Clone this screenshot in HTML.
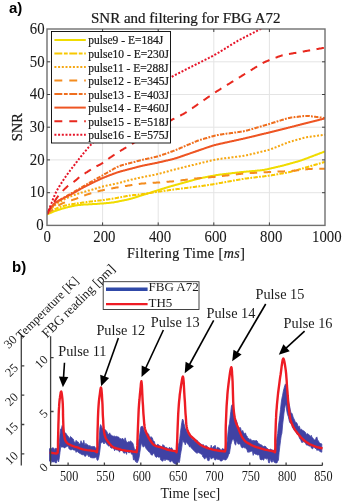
<!DOCTYPE html>
<html><head><meta charset="utf-8"><style>
html,body{margin:0;padding:0;background:#fff;width:342px;height:502px;overflow:hidden}
svg{display:block;will-change:transform}
.ser{font-family:"Liberation Serif",serif;fill:#1a1a1a}
.pa text.ser{stroke:#1a1a1a;stroke-width:0.22px}
.pa text.tk{stroke-width:0.08px}
.lab{font-family:"Liberation Sans",sans-serif;font-weight:bold;font-size:15px;fill:#000}
</style></head><body>
<svg width="342" height="502" viewBox="0 0 342 502">
<g class="pa">
<text x="9" y="12.7" class="lab">a)</text>
<text x="91" y="23.2" class="ser" font-size="15">SNR and filtering for FBG A72</text>
<path d="M102.6,29V225.4 M158.2,29V225.4 M213.8,29V225.4 M269.4,29V225.4 M47,192.7H325 M47,159.9H325 M47,127.2H325 M47,94.5H325 M47,61.8H325" stroke="#e4e4e4" stroke-width="1" fill="none"/>
<defs><clipPath id="ca"><rect x="47" y="29" width="278" height="196.4"/></clipPath></defs>
<g clip-path="url(#ca)" fill="none" stroke-width="2" stroke-linejoin="round">
<path d="M47.0,214.6 L47.5,214.3 L48.0,214.1 L48.5,213.8 L49.0,213.6 L49.5,213.4 L50.0,213.1 L50.5,212.9 L51.0,212.7 L51.5,212.5 L52.0,212.3 L52.5,212.1 L53.0,211.8 L53.5,211.6 L54.0,211.4 L54.5,211.2 L55.0,211.1 L55.5,210.9 L56.0,210.7 L56.5,210.5 L57.0,210.3 L57.5,210.2 L58.0,210.0 L58.5,209.8 L59.0,209.7 L59.5,209.5 L60.0,209.4 L60.5,209.2 L61.0,209.0 L61.5,208.9 L62.0,208.7 L62.5,208.6 L63.0,208.5 L63.5,208.3 L64.0,208.2 L64.5,208.0 L65.0,207.9 L65.5,207.8 L66.0,207.6 L66.5,207.5 L67.0,207.4 L67.5,207.3 L68.0,207.1 L68.5,207.0 L69.0,206.9 L69.5,206.8 L70.0,206.7 L70.5,206.6 L71.0,206.5 L71.5,206.3 L72.0,206.2 L72.5,206.1 L73.0,206.0 L73.5,205.9 L74.0,205.8 L74.5,205.7 L75.0,205.6 L75.5,205.5 L76.0,205.4 L76.5,205.3 L77.0,205.3 L77.5,205.2 L78.0,205.1 L78.5,205.1 L79.0,205.0 L79.5,205.0 L80.0,204.9 L80.5,204.9 L81.0,204.8 L81.5,204.8 L82.0,204.7 L82.5,204.7 L83.0,204.7 L83.5,204.6 L84.0,204.6 L84.5,204.6 L85.0,204.5 L85.5,204.5 L86.0,204.5 L86.5,204.4 L87.0,204.4 L87.5,204.4 L88.0,204.4 L88.5,204.3 L89.0,204.3 L89.5,204.3 L90.0,204.3 L90.5,204.2 L91.0,204.2 L91.5,204.2 L92.0,204.2 L92.5,204.1 L93.0,204.1 L93.5,204.1 L94.0,204.1 L94.5,204.0 L95.0,204.0 L95.5,204.0 L96.0,203.9 L96.5,203.9 L97.0,203.9 L97.5,203.8 L98.0,203.8 L98.5,203.8 L99.0,203.7 L99.5,203.7 L100.0,203.6 L100.5,203.6 L101.0,203.6 L101.5,203.5 L102.0,203.5 L102.5,203.5 L103.0,203.4 L103.5,203.4 L104.0,203.3 L104.5,203.3 L105.0,203.2 L105.5,203.2 L106.0,203.2 L106.5,203.1 L107.0,203.1 L107.5,203.0 L108.0,203.0 L108.5,202.9 L109.0,202.9 L109.5,202.8 L110.0,202.8 L110.5,202.7 L111.0,202.7 L111.5,202.6 L112.0,202.6 L112.5,202.5 L113.0,202.4 L113.5,202.4 L114.0,202.3 L114.5,202.2 L115.0,202.1 L115.5,202.0 L116.0,201.9 L116.5,201.8 L117.0,201.8 L117.5,201.7 L118.0,201.5 L118.5,201.4 L119.0,201.3 L119.5,201.2 L120.0,201.1 L120.5,201.0 L121.0,200.9 L121.5,200.8 L122.0,200.7 L122.5,200.6 L123.0,200.5 L123.5,200.4 L124.0,200.3 L124.5,200.2 L125.0,200.1 L125.5,200.0 L126.0,199.9 L126.5,199.8 L127.0,199.7 L127.5,199.6 L128.0,199.5 L128.5,199.3 L129.0,199.2 L129.5,199.1 L130.0,199.0 L130.5,198.8 L131.0,198.7 L131.5,198.6 L132.0,198.4 L132.5,198.3 L133.0,198.1 L133.5,198.0 L134.0,197.8 L134.5,197.7 L135.0,197.5 L135.5,197.3 L136.0,197.2 L136.5,197.0 L137.0,196.9 L137.5,196.7 L138.0,196.5 L138.5,196.4 L139.0,196.2 L139.5,196.1 L140.0,195.9 L140.5,195.7 L141.0,195.6 L141.5,195.4 L142.0,195.3 L142.5,195.1 L143.0,195.0 L143.5,194.8 L144.0,194.6 L144.5,194.5 L145.0,194.3 L145.5,194.2 L146.0,194.0 L146.5,193.9 L147.0,193.7 L147.5,193.5 L148.0,193.4 L148.5,193.2 L149.0,193.1 L149.5,192.9 L150.0,192.8 L150.5,192.6 L151.0,192.4 L151.5,192.3 L152.0,192.1 L152.5,192.0 L153.0,191.8 L153.5,191.7 L154.0,191.5 L154.5,191.3 L155.0,191.2 L155.5,191.0 L156.0,190.9 L156.5,190.7 L157.0,190.6 L157.5,190.4 L158.0,190.2 L158.5,190.1 L159.0,189.9 L159.5,189.8 L160.0,189.6 L160.5,189.5 L161.0,189.3 L161.5,189.1 L162.0,189.0 L162.5,188.8 L163.0,188.7 L163.5,188.5 L164.0,188.4 L164.5,188.2 L165.0,188.0 L165.5,187.9 L166.0,187.7 L166.5,187.6 L167.0,187.4 L167.5,187.3 L168.0,187.1 L168.5,187.0 L169.0,186.8 L169.5,186.7 L170.0,186.5 L170.5,186.4 L171.0,186.2 L171.5,186.1 L172.0,186.0 L172.5,185.8 L173.0,185.7 L173.5,185.5 L174.0,185.4 L174.5,185.3 L175.0,185.1 L175.5,185.0 L176.0,184.8 L176.5,184.7 L177.0,184.6 L177.5,184.4 L178.0,184.3 L178.5,184.2 L179.0,184.0 L179.5,183.9 L180.0,183.7 L180.5,183.6 L181.0,183.5 L181.5,183.3 L182.0,183.2 L182.5,183.0 L183.0,182.9 L183.5,182.8 L184.0,182.6 L184.5,182.5 L185.0,182.3 L185.5,182.2 L186.0,182.1 L186.5,181.9 L187.0,181.8 L187.5,181.7 L188.0,181.5 L188.5,181.4 L189.0,181.2 L189.5,181.1 L190.0,181.0 L190.5,180.8 L191.0,180.7 L191.5,180.5 L192.0,180.4 L192.5,180.3 L193.0,180.1 L193.5,180.0 L194.0,179.8 L194.5,179.7 L195.0,179.6 L195.5,179.4 L196.0,179.3 L196.5,179.2 L197.0,179.1 L197.5,178.9 L198.0,178.8 L198.5,178.7 L199.0,178.6 L199.5,178.5 L200.0,178.3 L200.5,178.2 L201.0,178.1 L201.5,178.0 L202.0,177.9 L202.5,177.8 L203.0,177.7 L203.5,177.6 L204.0,177.5 L204.5,177.4 L205.0,177.3 L205.5,177.2 L206.0,177.1 L206.5,177.0 L207.0,176.9 L207.5,176.8 L208.0,176.7 L208.5,176.6 L209.0,176.5 L209.5,176.4 L210.0,176.3 L210.5,176.2 L211.0,176.1 L211.5,176.0 L212.0,175.9 L212.5,175.9 L213.0,175.8 L213.5,175.7 L214.0,175.6 L214.5,175.5 L215.0,175.4 L215.5,175.3 L216.0,175.2 L216.5,175.1 L217.0,175.1 L217.5,175.0 L218.0,174.9 L218.5,174.8 L219.0,174.8 L219.5,174.7 L220.0,174.6 L220.5,174.6 L221.0,174.5 L221.5,174.4 L222.0,174.4 L222.5,174.3 L223.0,174.3 L223.5,174.2 L224.0,174.1 L224.5,174.1 L225.0,174.0 L225.5,174.0 L226.0,173.9 L226.5,173.8 L227.0,173.8 L227.5,173.7 L228.0,173.7 L228.5,173.6 L229.0,173.6 L229.5,173.5 L230.0,173.4 L230.5,173.4 L231.0,173.3 L231.5,173.3 L232.0,173.2 L232.5,173.1 L233.0,173.1 L233.5,173.0 L234.0,173.0 L234.5,172.9 L235.0,172.8 L235.5,172.8 L236.0,172.7 L236.5,172.7 L237.0,172.6 L237.5,172.5 L238.0,172.5 L238.5,172.4 L239.0,172.4 L239.5,172.3 L240.0,172.3 L240.5,172.2 L241.0,172.1 L241.5,172.1 L242.0,172.0 L242.5,172.0 L243.0,171.9 L243.5,171.9 L244.0,171.8 L244.5,171.8 L245.0,171.7 L245.5,171.7 L246.0,171.7 L246.5,171.6 L247.0,171.6 L247.5,171.5 L248.0,171.5 L248.5,171.4 L249.0,171.4 L249.5,171.3 L250.0,171.3 L250.5,171.3 L251.0,171.2 L251.5,171.2 L252.0,171.1 L252.5,171.1 L253.0,171.0 L253.5,171.0 L254.0,170.9 L254.5,170.9 L255.0,170.9 L255.5,170.8 L256.0,170.8 L256.5,170.7 L257.0,170.7 L257.5,170.6 L258.0,170.6 L258.5,170.5 L259.0,170.5 L259.5,170.4 L260.0,170.4 L260.5,170.3 L261.0,170.3 L261.5,170.2 L262.0,170.2 L262.5,170.1 L263.0,170.0 L263.5,169.9 L264.0,169.9 L264.5,169.8 L265.0,169.7 L265.5,169.6 L266.0,169.5 L266.5,169.4 L267.0,169.3 L267.5,169.2 L268.0,169.1 L268.5,168.9 L269.0,168.8 L269.5,168.7 L270.0,168.6 L270.5,168.5 L271.0,168.4 L271.5,168.2 L272.0,168.1 L272.5,168.0 L273.0,167.9 L273.5,167.8 L274.0,167.7 L274.5,167.5 L275.0,167.4 L275.5,167.3 L276.0,167.2 L276.5,167.1 L277.0,167.0 L277.5,166.9 L278.0,166.7 L278.5,166.6 L279.0,166.5 L279.5,166.4 L280.0,166.3 L280.5,166.1 L281.0,166.0 L281.5,165.9 L282.0,165.8 L282.5,165.7 L283.0,165.5 L283.5,165.4 L284.0,165.3 L284.5,165.1 L285.0,165.0 L285.5,164.9 L286.0,164.7 L286.5,164.6 L287.0,164.5 L287.5,164.3 L288.0,164.2 L288.5,164.0 L289.0,163.9 L289.5,163.8 L290.0,163.6 L290.5,163.5 L291.0,163.3 L291.5,163.2 L292.0,163.1 L292.5,162.9 L293.0,162.8 L293.5,162.6 L294.0,162.5 L294.5,162.4 L295.0,162.2 L295.5,162.1 L296.0,161.9 L296.5,161.8 L297.0,161.7 L297.5,161.5 L298.0,161.4 L298.5,161.2 L299.0,161.1 L299.5,160.9 L300.0,160.8 L300.5,160.6 L301.0,160.4 L301.5,160.3 L302.0,160.1 L302.5,159.9 L303.0,159.7 L303.5,159.6 L304.0,159.4 L304.5,159.2 L305.0,159.0 L305.5,158.8 L306.0,158.6 L306.5,158.4 L307.0,158.3 L307.5,158.1 L308.0,157.9 L308.5,157.7 L309.0,157.5 L309.5,157.3 L310.0,157.1 L310.5,156.9 L311.0,156.7 L311.5,156.5 L312.0,156.4 L312.5,156.2 L313.0,156.0 L313.5,155.8 L314.0,155.6 L314.5,155.4 L315.0,155.2 L315.5,155.0 L316.0,154.8 L316.5,154.7 L317.0,154.5 L317.5,154.3 L318.0,154.1 L318.5,153.9 L319.0,153.7 L319.5,153.5 L320.0,153.3 L320.5,153.1 L321.0,152.9 L321.5,152.8 L322.0,152.6 L322.5,152.4 L323.0,152.2 L323.5,152.0 L324.0,151.8 L324.5,151.6 L325.0,151.4" stroke="#f0dc00" />
<path d="M47.0,213.9 L47.5,213.6 L48.0,213.3 L48.5,213.0 L49.0,212.7 L49.5,212.4 L50.0,212.1 L50.5,211.8 L51.0,211.5 L51.5,211.2 L52.0,210.9 L52.5,210.6 L53.0,210.3 L53.5,210.0 L54.0,209.7 L54.5,209.5 L55.0,209.2 L55.5,208.9 L56.0,208.7 L56.5,208.5 L57.0,208.2 L57.5,208.0 L58.0,207.8 L58.5,207.6 L59.0,207.4 L59.5,207.2 L60.0,207.0 L60.5,206.8 L61.0,206.7 L61.5,206.5 L62.0,206.4 L62.5,206.2 L63.0,206.1 L63.5,205.9 L64.0,205.8 L64.5,205.7 L65.0,205.5 L65.5,205.4 L66.0,205.3 L66.5,205.2 L67.0,205.1 L67.5,205.0 L68.0,204.9 L68.5,204.8 L69.0,204.7 L69.5,204.6 L70.0,204.5 L70.5,204.4 L71.0,204.3 L71.5,204.3 L72.0,204.2 L72.5,204.1 L73.0,204.0 L73.5,203.9 L74.0,203.9 L74.5,203.8 L75.0,203.7 L75.5,203.6 L76.0,203.6 L76.5,203.5 L77.0,203.4 L77.5,203.3 L78.0,203.3 L78.5,203.2 L79.0,203.1 L79.5,203.1 L80.0,203.0 L80.5,202.9 L81.0,202.9 L81.5,202.8 L82.0,202.7 L82.5,202.6 L83.0,202.6 L83.5,202.5 L84.0,202.4 L84.5,202.4 L85.0,202.3 L85.5,202.2 L86.0,202.2 L86.5,202.1 L87.0,202.0 L87.5,201.9 L88.0,201.9 L88.5,201.8 L89.0,201.7 L89.5,201.7 L90.0,201.6 L90.5,201.5 L91.0,201.5 L91.5,201.4 L92.0,201.4 L92.5,201.3 L93.0,201.2 L93.5,201.2 L94.0,201.1 L94.5,201.1 L95.0,201.0 L95.5,200.9 L96.0,200.9 L96.5,200.8 L97.0,200.8 L97.5,200.7 L98.0,200.7 L98.5,200.6 L99.0,200.6 L99.5,200.5 L100.0,200.5 L100.5,200.4 L101.0,200.3 L101.5,200.3 L102.0,200.2 L102.5,200.2 L103.0,200.1 L103.5,200.0 L104.0,200.0 L104.5,199.9 L105.0,199.8 L105.5,199.8 L106.0,199.7 L106.5,199.6 L107.0,199.5 L107.5,199.5 L108.0,199.4 L108.5,199.3 L109.0,199.2 L109.5,199.2 L110.0,199.1 L110.5,199.0 L111.0,198.9 L111.5,198.8 L112.0,198.8 L112.5,198.7 L113.0,198.6 L113.5,198.5 L114.0,198.4 L114.5,198.3 L115.0,198.3 L115.5,198.2 L116.0,198.1 L116.5,198.0 L117.0,197.9 L117.5,197.8 L118.0,197.7 L118.5,197.6 L119.0,197.5 L119.5,197.4 L120.0,197.3 L120.5,197.2 L121.0,197.2 L121.5,197.1 L122.0,197.0 L122.5,196.9 L123.0,196.8 L123.5,196.7 L124.0,196.6 L124.5,196.5 L125.0,196.4 L125.5,196.3 L126.0,196.2 L126.5,196.1 L127.0,196.0 L127.5,196.0 L128.0,195.9 L128.5,195.8 L129.0,195.7 L129.5,195.6 L130.0,195.6 L130.5,195.5 L131.0,195.4 L131.5,195.4 L132.0,195.3 L132.5,195.2 L133.0,195.2 L133.5,195.1 L134.0,195.1 L134.5,195.0 L135.0,195.0 L135.5,194.9 L136.0,194.9 L136.5,194.8 L137.0,194.8 L137.5,194.7 L138.0,194.7 L138.5,194.6 L139.0,194.6 L139.5,194.5 L140.0,194.5 L140.5,194.4 L141.0,194.3 L141.5,194.3 L142.0,194.2 L142.5,194.1 L143.0,194.1 L143.5,194.0 L144.0,193.9 L144.5,193.9 L145.0,193.8 L145.5,193.7 L146.0,193.6 L146.5,193.6 L147.0,193.5 L147.5,193.4 L148.0,193.3 L148.5,193.2 L149.0,193.2 L149.5,193.1 L150.0,193.0 L150.5,192.9 L151.0,192.8 L151.5,192.8 L152.0,192.7 L152.5,192.6 L153.0,192.5 L153.5,192.4 L154.0,192.4 L154.5,192.3 L155.0,192.2 L155.5,192.1 L156.0,192.0 L156.5,192.0 L157.0,191.9 L157.5,191.8 L158.0,191.7 L158.5,191.7 L159.0,191.6 L159.5,191.5 L160.0,191.4 L160.5,191.4 L161.0,191.3 L161.5,191.2 L162.0,191.2 L162.5,191.1 L163.0,191.0 L163.5,191.0 L164.0,190.9 L164.5,190.8 L165.0,190.8 L165.5,190.7 L166.0,190.6 L166.5,190.5 L167.0,190.5 L167.5,190.4 L168.0,190.3 L168.5,190.3 L169.0,190.2 L169.5,190.1 L170.0,190.1 L170.5,190.0 L171.0,189.9 L171.5,189.9 L172.0,189.8 L172.5,189.7 L173.0,189.7 L173.5,189.6 L174.0,189.5 L174.5,189.5 L175.0,189.4 L175.5,189.3 L176.0,189.3 L176.5,189.2 L177.0,189.1 L177.5,189.1 L178.0,189.0 L178.5,188.9 L179.0,188.9 L179.5,188.8 L180.0,188.7 L180.5,188.7 L181.0,188.6 L181.5,188.6 L182.0,188.5 L182.5,188.4 L183.0,188.4 L183.5,188.3 L184.0,188.2 L184.5,188.2 L185.0,188.1 L185.5,188.0 L186.0,188.0 L186.5,187.9 L187.0,187.9 L187.5,187.8 L188.0,187.7 L188.5,187.7 L189.0,187.6 L189.5,187.5 L190.0,187.5 L190.5,187.4 L191.0,187.3 L191.5,187.3 L192.0,187.2 L192.5,187.1 L193.0,187.1 L193.5,187.0 L194.0,187.0 L194.5,186.9 L195.0,186.8 L195.5,186.8 L196.0,186.7 L196.5,186.6 L197.0,186.6 L197.5,186.5 L198.0,186.4 L198.5,186.4 L199.0,186.3 L199.5,186.3 L200.0,186.2 L200.5,186.1 L201.0,186.1 L201.5,186.0 L202.0,185.9 L202.5,185.9 L203.0,185.8 L203.5,185.7 L204.0,185.7 L204.5,185.6 L205.0,185.6 L205.5,185.5 L206.0,185.4 L206.5,185.3 L207.0,185.3 L207.5,185.2 L208.0,185.1 L208.5,185.0 L209.0,185.0 L209.5,184.9 L210.0,184.8 L210.5,184.7 L211.0,184.6 L211.5,184.6 L212.0,184.5 L212.5,184.4 L213.0,184.3 L213.5,184.2 L214.0,184.1 L214.5,184.0 L215.0,183.9 L215.5,183.8 L216.0,183.8 L216.5,183.7 L217.0,183.6 L217.5,183.5 L218.0,183.4 L218.5,183.3 L219.0,183.2 L219.5,183.1 L220.0,183.0 L220.5,183.0 L221.0,182.9 L221.5,182.8 L222.0,182.7 L222.5,182.6 L223.0,182.5 L223.5,182.4 L224.0,182.3 L224.5,182.2 L225.0,182.2 L225.5,182.1 L226.0,182.0 L226.5,181.9 L227.0,181.8 L227.5,181.7 L228.0,181.6 L228.5,181.5 L229.0,181.4 L229.5,181.3 L230.0,181.3 L230.5,181.2 L231.0,181.1 L231.5,181.0 L232.0,180.9 L232.5,180.8 L233.0,180.7 L233.5,180.6 L234.0,180.5 L234.5,180.5 L235.0,180.4 L235.5,180.3 L236.0,180.2 L236.5,180.1 L237.0,180.0 L237.5,179.9 L238.0,179.8 L238.5,179.7 L239.0,179.7 L239.5,179.6 L240.0,179.5 L240.5,179.4 L241.0,179.3 L241.5,179.2 L242.0,179.1 L242.5,179.0 L243.0,179.0 L243.5,178.9 L244.0,178.8 L244.5,178.7 L245.0,178.6 L245.5,178.6 L246.0,178.5 L246.5,178.4 L247.0,178.4 L247.5,178.3 L248.0,178.2 L248.5,178.2 L249.0,178.1 L249.5,178.0 L250.0,178.0 L250.5,177.9 L251.0,177.9 L251.5,177.8 L252.0,177.7 L252.5,177.7 L253.0,177.6 L253.5,177.6 L254.0,177.5 L254.5,177.4 L255.0,177.4 L255.5,177.3 L256.0,177.3 L256.5,177.2 L257.0,177.1 L257.5,177.1 L258.0,177.0 L258.5,177.0 L259.0,176.9 L259.5,176.8 L260.0,176.8 L260.5,176.7 L261.0,176.7 L261.5,176.6 L262.0,176.5 L262.5,176.5 L263.0,176.4 L263.5,176.4 L264.0,176.3 L264.5,176.2 L265.0,176.2 L265.5,176.1 L266.0,176.1 L266.5,176.0 L267.0,175.9 L267.5,175.9 L268.0,175.8 L268.5,175.7 L269.0,175.7 L269.5,175.6 L270.0,175.5 L270.5,175.4 L271.0,175.4 L271.5,175.3 L272.0,175.2 L272.5,175.1 L273.0,175.0 L273.5,174.9 L274.0,174.9 L274.5,174.8 L275.0,174.7 L275.5,174.6 L276.0,174.5 L276.5,174.4 L277.0,174.3 L277.5,174.3 L278.0,174.2 L278.5,174.1 L279.0,174.0 L279.5,173.9 L280.0,173.8 L280.5,173.7 L281.0,173.6 L281.5,173.6 L282.0,173.5 L282.5,173.4 L283.0,173.3 L283.5,173.2 L284.0,173.1 L284.5,173.0 L285.0,173.0 L285.5,172.9 L286.0,172.8 L286.5,172.7 L287.0,172.6 L287.5,172.5 L288.0,172.4 L288.5,172.3 L289.0,172.2 L289.5,172.1 L290.0,172.0 L290.5,171.9 L291.0,171.7 L291.5,171.6 L292.0,171.5 L292.5,171.4 L293.0,171.2 L293.5,171.1 L294.0,171.0 L294.5,170.8 L295.0,170.7 L295.5,170.5 L296.0,170.4 L296.5,170.2 L297.0,170.1 L297.5,169.9 L298.0,169.8 L298.5,169.6 L299.0,169.5 L299.5,169.3 L300.0,169.2 L300.5,169.1 L301.0,168.9 L301.5,168.8 L302.0,168.6 L302.5,168.5 L303.0,168.3 L303.5,168.2 L304.0,168.0 L304.5,167.9 L305.0,167.7 L305.5,167.6 L306.0,167.5 L306.5,167.3 L307.0,167.2 L307.5,167.0 L308.0,166.9 L308.5,166.7 L309.0,166.6 L309.5,166.4 L310.0,166.3 L310.5,166.1 L311.0,166.0 L311.5,165.8 L312.0,165.7 L312.5,165.6 L313.0,165.4 L313.5,165.3 L314.0,165.1 L314.5,165.0 L315.0,164.8 L315.5,164.7 L316.0,164.5 L316.5,164.4 L317.0,164.2 L317.5,164.1 L318.0,163.9 L318.5,163.8 L319.0,163.7 L319.5,163.5 L320.0,163.4 L320.5,163.2 L321.0,163.1 L321.5,162.9 L322.0,162.8 L322.5,162.6 L323.0,162.5 L323.5,162.3 L324.0,162.2 L324.5,162.0 L325.0,161.9" stroke="#f8c800" stroke-dasharray="4.4 1.3 1.8 1.3"/>
<path d="M47.0,213.9 L47.5,213.4 L48.0,212.8 L48.5,212.2 L49.0,211.6 L49.5,211.0 L50.0,210.4 L50.5,209.8 L51.0,209.2 L51.5,208.7 L52.0,208.1 L52.5,207.5 L53.0,207.0 L53.5,206.5 L54.0,206.0 L54.5,205.6 L55.0,205.1 L55.5,204.7 L56.0,204.3 L56.5,203.9 L57.0,203.5 L57.5,203.1 L58.0,202.8 L58.5,202.5 L59.0,202.2 L59.5,201.9 L60.0,201.6 L60.5,201.4 L61.0,201.1 L61.5,200.8 L62.0,200.6 L62.5,200.3 L63.0,200.0 L63.5,199.8 L64.0,199.5 L64.5,199.3 L65.0,199.0 L65.5,198.8 L66.0,198.5 L66.5,198.3 L67.0,198.0 L67.5,197.8 L68.0,197.6 L68.5,197.4 L69.0,197.1 L69.5,196.9 L70.0,196.7 L70.5,196.5 L71.0,196.3 L71.5,196.1 L72.0,195.9 L72.5,195.7 L73.0,195.5 L73.5,195.3 L74.0,195.1 L74.5,194.9 L75.0,194.8 L75.5,194.6 L76.0,194.4 L76.5,194.2 L77.0,194.1 L77.5,193.9 L78.0,193.7 L78.5,193.6 L79.0,193.4 L79.5,193.2 L80.0,193.1 L80.5,192.9 L81.0,192.7 L81.5,192.6 L82.0,192.4 L82.5,192.3 L83.0,192.1 L83.5,192.0 L84.0,191.8 L84.5,191.7 L85.0,191.6 L85.5,191.4 L86.0,191.3 L86.5,191.1 L87.0,191.0 L87.5,190.9 L88.0,190.7 L88.5,190.6 L89.0,190.5 L89.5,190.4 L90.0,190.2 L90.5,190.1 L91.0,189.9 L91.5,189.8 L92.0,189.7 L92.5,189.5 L93.0,189.4 L93.5,189.2 L94.0,189.1 L94.5,189.0 L95.0,188.8 L95.5,188.7 L96.0,188.5 L96.5,188.4 L97.0,188.2 L97.5,188.0 L98.0,187.9 L98.5,187.7 L99.0,187.6 L99.5,187.4 L100.0,187.3 L100.5,187.1 L101.0,187.0 L101.5,186.9 L102.0,186.7 L102.5,186.6 L103.0,186.5 L103.5,186.3 L104.0,186.2 L104.5,186.1 L105.0,186.0 L105.5,185.9 L106.0,185.8 L106.5,185.6 L107.0,185.5 L107.5,185.4 L108.0,185.3 L108.5,185.2 L109.0,185.1 L109.5,185.0 L110.0,184.9 L110.5,184.8 L111.0,184.7 L111.5,184.6 L112.0,184.5 L112.5,184.4 L113.0,184.3 L113.5,184.2 L114.0,184.1 L114.5,184.0 L115.0,183.9 L115.5,183.8 L116.0,183.7 L116.5,183.6 L117.0,183.4 L117.5,183.3 L118.0,183.2 L118.5,183.1 L119.0,183.0 L119.5,182.8 L120.0,182.7 L120.5,182.6 L121.0,182.5 L121.5,182.3 L122.0,182.2 L122.5,182.0 L123.0,181.9 L123.5,181.8 L124.0,181.6 L124.5,181.5 L125.0,181.3 L125.5,181.2 L126.0,181.1 L126.5,180.9 L127.0,180.8 L127.5,180.6 L128.0,180.5 L128.5,180.4 L129.0,180.3 L129.5,180.1 L130.0,180.0 L130.5,179.9 L131.0,179.7 L131.5,179.6 L132.0,179.5 L132.5,179.4 L133.0,179.3 L133.5,179.2 L134.0,179.0 L134.5,178.9 L135.0,178.8 L135.5,178.7 L136.0,178.6 L136.5,178.5 L137.0,178.4 L137.5,178.3 L138.0,178.1 L138.5,178.0 L139.0,177.9 L139.5,177.8 L140.0,177.7 L140.5,177.6 L141.0,177.5 L141.5,177.4 L142.0,177.3 L142.5,177.2 L143.0,177.1 L143.5,177.0 L144.0,176.9 L144.5,176.8 L145.0,176.6 L145.5,176.5 L146.0,176.4 L146.5,176.3 L147.0,176.2 L147.5,176.1 L148.0,176.0 L148.5,175.9 L149.0,175.8 L149.5,175.7 L150.0,175.7 L150.5,175.6 L151.0,175.5 L151.5,175.4 L152.0,175.3 L152.5,175.2 L153.0,175.1 L153.5,175.0 L154.0,174.9 L154.5,174.8 L155.0,174.6 L155.5,174.5 L156.0,174.4 L156.5,174.3 L157.0,174.2 L157.5,174.1 L158.0,174.0 L158.5,173.9 L159.0,173.7 L159.5,173.6 L160.0,173.5 L160.5,173.4 L161.0,173.2 L161.5,173.1 L162.0,173.0 L162.5,172.8 L163.0,172.7 L163.5,172.6 L164.0,172.4 L164.5,172.3 L165.0,172.1 L165.5,172.0 L166.0,171.9 L166.5,171.7 L167.0,171.6 L167.5,171.5 L168.0,171.3 L168.5,171.2 L169.0,171.0 L169.5,170.9 L170.0,170.8 L170.5,170.6 L171.0,170.5 L171.5,170.4 L172.0,170.2 L172.5,170.1 L173.0,170.0 L173.5,169.8 L174.0,169.7 L174.5,169.6 L175.0,169.4 L175.5,169.3 L176.0,169.2 L176.5,169.0 L177.0,168.9 L177.5,168.8 L178.0,168.7 L178.5,168.5 L179.0,168.4 L179.5,168.3 L180.0,168.2 L180.5,168.1 L181.0,167.9 L181.5,167.8 L182.0,167.7 L182.5,167.6 L183.0,167.4 L183.5,167.3 L184.0,167.2 L184.5,167.1 L185.0,166.9 L185.5,166.8 L186.0,166.7 L186.5,166.6 L187.0,166.5 L187.5,166.3 L188.0,166.2 L188.5,166.1 L189.0,166.0 L189.5,165.8 L190.0,165.7 L190.5,165.6 L191.0,165.5 L191.5,165.4 L192.0,165.2 L192.5,165.1 L193.0,165.0 L193.5,164.9 L194.0,164.7 L194.5,164.6 L195.0,164.5 L195.5,164.4 L196.0,164.3 L196.5,164.1 L197.0,164.0 L197.5,163.9 L198.0,163.8 L198.5,163.6 L199.0,163.5 L199.5,163.4 L200.0,163.3 L200.5,163.1 L201.0,163.0 L201.5,162.9 L202.0,162.8 L202.5,162.7 L203.0,162.5 L203.5,162.4 L204.0,162.3 L204.5,162.2 L205.0,162.0 L205.5,161.9 L206.0,161.8 L206.5,161.7 L207.0,161.6 L207.5,161.4 L208.0,161.3 L208.5,161.2 L209.0,161.1 L209.5,161.0 L210.0,160.9 L210.5,160.7 L211.0,160.6 L211.5,160.5 L212.0,160.4 L212.5,160.3 L213.0,160.2 L213.5,160.1 L214.0,159.9 L214.5,159.8 L215.0,159.7 L215.5,159.6 L216.0,159.5 L216.5,159.5 L217.0,159.4 L217.5,159.3 L218.0,159.2 L218.5,159.1 L219.0,159.0 L219.5,159.0 L220.0,158.9 L220.5,158.8 L221.0,158.8 L221.5,158.7 L222.0,158.6 L222.5,158.6 L223.0,158.5 L223.5,158.4 L224.0,158.4 L224.5,158.3 L225.0,158.2 L225.5,158.2 L226.0,158.1 L226.5,158.0 L227.0,158.0 L227.5,157.9 L228.0,157.9 L228.5,157.8 L229.0,157.7 L229.5,157.7 L230.0,157.6 L230.5,157.5 L231.0,157.5 L231.5,157.4 L232.0,157.3 L232.5,157.3 L233.0,157.2 L233.5,157.2 L234.0,157.1 L234.5,157.0 L235.0,157.0 L235.5,156.9 L236.0,156.8 L236.5,156.8 L237.0,156.7 L237.5,156.6 L238.0,156.6 L238.5,156.5 L239.0,156.4 L239.5,156.4 L240.0,156.3 L240.5,156.3 L241.0,156.2 L241.5,156.1 L242.0,156.1 L242.5,156.0 L243.0,155.9 L243.5,155.8 L244.0,155.7 L244.5,155.6 L245.0,155.6 L245.5,155.5 L246.0,155.4 L246.5,155.3 L247.0,155.2 L247.5,155.0 L248.0,154.9 L248.5,154.8 L249.0,154.7 L249.5,154.6 L250.0,154.5 L250.5,154.3 L251.0,154.2 L251.5,154.1 L252.0,154.0 L252.5,153.9 L253.0,153.7 L253.5,153.6 L254.0,153.5 L254.5,153.4 L255.0,153.3 L255.5,153.1 L256.0,153.0 L256.5,152.9 L257.0,152.8 L257.5,152.7 L258.0,152.5 L258.5,152.4 L259.0,152.3 L259.5,152.2 L260.0,152.1 L260.5,151.9 L261.0,151.8 L261.5,151.7 L262.0,151.6 L262.5,151.5 L263.0,151.3 L263.5,151.2 L264.0,151.1 L264.5,151.0 L265.0,150.9 L265.5,150.7 L266.0,150.6 L266.5,150.5 L267.0,150.3 L267.5,150.2 L268.0,150.1 L268.5,149.9 L269.0,149.8 L269.5,149.6 L270.0,149.4 L270.5,149.3 L271.0,149.1 L271.5,148.9 L272.0,148.7 L272.5,148.5 L273.0,148.4 L273.5,148.2 L274.0,148.0 L274.5,147.8 L275.0,147.6 L275.5,147.4 L276.0,147.2 L276.5,147.0 L277.0,146.8 L277.5,146.6 L278.0,146.4 L278.5,146.2 L279.0,146.0 L279.5,145.8 L280.0,145.6 L280.5,145.4 L281.0,145.2 L281.5,145.0 L282.0,144.8 L282.5,144.6 L283.0,144.4 L283.5,144.2 L284.0,144.0 L284.5,143.8 L285.0,143.6 L285.5,143.4 L286.0,143.2 L286.5,143.0 L287.0,142.8 L287.5,142.6 L288.0,142.5 L288.5,142.3 L289.0,142.1 L289.5,141.9 L290.0,141.8 L290.5,141.6 L291.0,141.5 L291.5,141.3 L292.0,141.2 L292.5,141.0 L293.0,140.9 L293.5,140.7 L294.0,140.6 L294.5,140.4 L295.0,140.3 L295.5,140.2 L296.0,140.0 L296.5,139.9 L297.0,139.7 L297.5,139.6 L298.0,139.5 L298.5,139.3 L299.0,139.2 L299.5,139.0 L300.0,138.9 L300.5,138.8 L301.0,138.6 L301.5,138.5 L302.0,138.3 L302.5,138.2 L303.0,138.1 L303.5,138.0 L304.0,137.8 L304.5,137.7 L305.0,137.6 L305.5,137.5 L306.0,137.4 L306.5,137.3 L307.0,137.2 L307.5,137.1 L308.0,137.1 L308.5,137.0 L309.0,136.9 L309.5,136.8 L310.0,136.8 L310.5,136.7 L311.0,136.6 L311.5,136.6 L312.0,136.5 L312.5,136.4 L313.0,136.4 L313.5,136.3 L314.0,136.2 L314.5,136.2 L315.0,136.1 L315.5,136.0 L316.0,135.9 L316.5,135.9 L317.0,135.8 L317.5,135.7 L318.0,135.7 L318.5,135.6 L319.0,135.5 L319.5,135.5 L320.0,135.4 L320.5,135.3 L321.0,135.3 L321.5,135.2 L322.0,135.1 L322.5,135.1 L323.0,135.0 L323.5,134.9 L324.0,134.9 L324.5,134.8 L325.0,134.7" stroke="#f6a814" stroke-dasharray="2 1.7"/>
<path d="M47.0,213.9 L47.5,213.6 L48.0,213.2 L48.5,212.8 L49.0,212.4 L49.5,212.0 L50.0,211.7 L50.5,211.3 L51.0,210.9 L51.5,210.5 L52.0,210.2 L52.5,209.8 L53.0,209.4 L53.5,209.0 L54.0,208.6 L54.5,208.3 L55.0,207.9 L55.5,207.5 L56.0,207.1 L56.5,206.8 L57.0,206.4 L57.5,206.1 L58.0,205.8 L58.5,205.4 L59.0,205.1 L59.5,204.8 L60.0,204.6 L60.5,204.3 L61.0,204.0 L61.5,203.8 L62.0,203.5 L62.5,203.3 L63.0,203.1 L63.5,202.9 L64.0,202.7 L64.5,202.6 L65.0,202.4 L65.5,202.2 L66.0,202.0 L66.5,201.9 L67.0,201.7 L67.5,201.5 L68.0,201.4 L68.5,201.2 L69.0,201.0 L69.5,200.9 L70.0,200.7 L70.5,200.6 L71.0,200.4 L71.5,200.3 L72.0,200.1 L72.5,199.9 L73.0,199.8 L73.5,199.6 L74.0,199.5 L74.5,199.3 L75.0,199.1 L75.5,198.9 L76.0,198.8 L76.5,198.6 L77.0,198.4 L77.5,198.2 L78.0,198.0 L78.5,197.8 L79.0,197.6 L79.5,197.4 L80.0,197.2 L80.5,197.0 L81.0,196.8 L81.5,196.6 L82.0,196.4 L82.5,196.2 L83.0,196.0 L83.5,195.8 L84.0,195.7 L84.5,195.5 L85.0,195.3 L85.5,195.1 L86.0,194.9 L86.5,194.7 L87.0,194.6 L87.5,194.4 L88.0,194.2 L88.5,194.1 L89.0,193.9 L89.5,193.8 L90.0,193.6 L90.5,193.4 L91.0,193.3 L91.5,193.2 L92.0,193.0 L92.5,192.9 L93.0,192.7 L93.5,192.6 L94.0,192.4 L94.5,192.3 L95.0,192.1 L95.5,192.0 L96.0,191.8 L96.5,191.7 L97.0,191.6 L97.5,191.4 L98.0,191.3 L98.5,191.2 L99.0,191.1 L99.5,190.9 L100.0,190.8 L100.5,190.7 L101.0,190.6 L101.5,190.5 L102.0,190.4 L102.5,190.3 L103.0,190.2 L103.5,190.1 L104.0,189.9 L104.5,189.8 L105.0,189.7 L105.5,189.6 L106.0,189.5 L106.5,189.4 L107.0,189.3 L107.5,189.2 L108.0,189.1 L108.5,189.0 L109.0,188.9 L109.5,188.8 L110.0,188.7 L110.5,188.6 L111.0,188.5 L111.5,188.4 L112.0,188.4 L112.5,188.3 L113.0,188.2 L113.5,188.1 L114.0,188.0 L114.5,187.9 L115.0,187.8 L115.5,187.7 L116.0,187.6 L116.5,187.6 L117.0,187.5 L117.5,187.4 L118.0,187.3 L118.5,187.2 L119.0,187.1 L119.5,187.0 L120.0,187.0 L120.5,186.9 L121.0,186.8 L121.5,186.7 L122.0,186.6 L122.5,186.5 L123.0,186.4 L123.5,186.4 L124.0,186.3 L124.5,186.2 L125.0,186.1 L125.5,186.0 L126.0,186.0 L126.5,185.9 L127.0,185.8 L127.5,185.7 L128.0,185.6 L128.5,185.6 L129.0,185.5 L129.5,185.4 L130.0,185.3 L130.5,185.3 L131.0,185.2 L131.5,185.1 L132.0,185.0 L132.5,184.9 L133.0,184.9 L133.5,184.8 L134.0,184.7 L134.5,184.6 L135.0,184.6 L135.5,184.5 L136.0,184.4 L136.5,184.3 L137.0,184.2 L137.5,184.2 L138.0,184.1 L138.5,184.0 L139.0,183.9 L139.5,183.9 L140.0,183.8 L140.5,183.8 L141.0,183.7 L141.5,183.6 L142.0,183.6 L142.5,183.5 L143.0,183.5 L143.5,183.4 L144.0,183.4 L144.5,183.4 L145.0,183.3 L145.5,183.3 L146.0,183.3 L146.5,183.2 L147.0,183.2 L147.5,183.2 L148.0,183.1 L148.5,183.1 L149.0,183.1 L149.5,183.0 L150.0,183.0 L150.5,183.0 L151.0,183.0 L151.5,182.9 L152.0,182.9 L152.5,182.9 L153.0,182.8 L153.5,182.8 L154.0,182.8 L154.5,182.7 L155.0,182.7 L155.5,182.7 L156.0,182.7 L156.5,182.6 L157.0,182.6 L157.5,182.6 L158.0,182.5 L158.5,182.5 L159.0,182.4 L159.5,182.4 L160.0,182.4 L160.5,182.3 L161.0,182.3 L161.5,182.3 L162.0,182.2 L162.5,182.2 L163.0,182.1 L163.5,182.1 L164.0,182.1 L164.5,182.0 L165.0,182.0 L165.5,182.0 L166.0,181.9 L166.5,181.9 L167.0,181.8 L167.5,181.8 L168.0,181.8 L168.5,181.7 L169.0,181.7 L169.5,181.6 L170.0,181.6 L170.5,181.6 L171.0,181.5 L171.5,181.5 L172.0,181.4 L172.5,181.4 L173.0,181.3 L173.5,181.3 L174.0,181.2 L174.5,181.2 L175.0,181.1 L175.5,181.1 L176.0,181.0 L176.5,181.0 L177.0,180.9 L177.5,180.9 L178.0,180.8 L178.5,180.7 L179.0,180.7 L179.5,180.6 L180.0,180.5 L180.5,180.5 L181.0,180.4 L181.5,180.3 L182.0,180.3 L182.5,180.2 L183.0,180.1 L183.5,180.1 L184.0,180.0 L184.5,179.9 L185.0,179.9 L185.5,179.8 L186.0,179.7 L186.5,179.7 L187.0,179.6 L187.5,179.5 L188.0,179.4 L188.5,179.4 L189.0,179.3 L189.5,179.2 L190.0,179.2 L190.5,179.1 L191.0,179.0 L191.5,179.0 L192.0,178.9 L192.5,178.9 L193.0,178.8 L193.5,178.7 L194.0,178.7 L194.5,178.6 L195.0,178.6 L195.5,178.5 L196.0,178.5 L196.5,178.4 L197.0,178.4 L197.5,178.3 L198.0,178.3 L198.5,178.2 L199.0,178.2 L199.5,178.2 L200.0,178.1 L200.5,178.1 L201.0,178.0 L201.5,178.0 L202.0,178.0 L202.5,177.9 L203.0,177.9 L203.5,177.8 L204.0,177.8 L204.5,177.7 L205.0,177.7 L205.5,177.7 L206.0,177.6 L206.5,177.6 L207.0,177.5 L207.5,177.5 L208.0,177.4 L208.5,177.4 L209.0,177.4 L209.5,177.3 L210.0,177.3 L210.5,177.2 L211.0,177.2 L211.5,177.1 L212.0,177.1 L212.5,177.1 L213.0,177.0 L213.5,177.0 L214.0,176.9 L214.5,176.9 L215.0,176.8 L215.5,176.8 L216.0,176.7 L216.5,176.6 L217.0,176.6 L217.5,176.5 L218.0,176.5 L218.5,176.4 L219.0,176.4 L219.5,176.3 L220.0,176.2 L220.5,176.2 L221.0,176.1 L221.5,176.1 L222.0,176.0 L222.5,176.0 L223.0,175.9 L223.5,175.8 L224.0,175.8 L224.5,175.7 L225.0,175.7 L225.5,175.6 L226.0,175.5 L226.5,175.5 L227.0,175.4 L227.5,175.4 L228.0,175.3 L228.5,175.3 L229.0,175.2 L229.5,175.1 L230.0,175.1 L230.5,175.0 L231.0,175.0 L231.5,174.9 L232.0,174.9 L232.5,174.8 L233.0,174.7 L233.5,174.7 L234.0,174.6 L234.5,174.6 L235.0,174.5 L235.5,174.5 L236.0,174.4 L236.5,174.3 L237.0,174.3 L237.5,174.2 L238.0,174.2 L238.5,174.1 L239.0,174.0 L239.5,174.0 L240.0,173.9 L240.5,173.9 L241.0,173.8 L241.5,173.8 L242.0,173.7 L242.5,173.7 L243.0,173.6 L243.5,173.6 L244.0,173.5 L244.5,173.5 L245.0,173.4 L245.5,173.4 L246.0,173.3 L246.5,173.3 L247.0,173.3 L247.5,173.2 L248.0,173.2 L248.5,173.2 L249.0,173.1 L249.5,173.1 L250.0,173.1 L250.5,173.1 L251.0,173.0 L251.5,173.0 L252.0,173.0 L252.5,173.0 L253.0,172.9 L253.5,172.9 L254.0,172.9 L254.5,172.8 L255.0,172.8 L255.5,172.8 L256.0,172.8 L256.5,172.7 L257.0,172.7 L257.5,172.7 L258.0,172.7 L258.5,172.6 L259.0,172.6 L259.5,172.6 L260.0,172.6 L260.5,172.5 L261.0,172.5 L261.5,172.5 L262.0,172.4 L262.5,172.4 L263.0,172.4 L263.5,172.4 L264.0,172.3 L264.5,172.3 L265.0,172.3 L265.5,172.3 L266.0,172.2 L266.5,172.2 L267.0,172.2 L267.5,172.2 L268.0,172.1 L268.5,172.1 L269.0,172.1 L269.5,172.1 L270.0,172.0 L270.5,172.0 L271.0,172.0 L271.5,172.0 L272.0,171.9 L272.5,171.9 L273.0,171.9 L273.5,171.9 L274.0,171.8 L274.5,171.8 L275.0,171.8 L275.5,171.8 L276.0,171.7 L276.5,171.7 L277.0,171.7 L277.5,171.7 L278.0,171.6 L278.5,171.6 L279.0,171.6 L279.5,171.6 L280.0,171.6 L280.5,171.5 L281.0,171.5 L281.5,171.5 L282.0,171.5 L282.5,171.4 L283.0,171.4 L283.5,171.4 L284.0,171.4 L284.5,171.3 L285.0,171.3 L285.5,171.3 L286.0,171.3 L286.5,171.2 L287.0,171.2 L287.5,171.2 L288.0,171.2 L288.5,171.1 L289.0,171.1 L289.5,171.1 L290.0,171.0 L290.5,171.0 L291.0,170.9 L291.5,170.9 L292.0,170.9 L292.5,170.8 L293.0,170.8 L293.5,170.7 L294.0,170.7 L294.5,170.6 L295.0,170.5 L295.5,170.5 L296.0,170.4 L296.5,170.4 L297.0,170.3 L297.5,170.3 L298.0,170.2 L298.5,170.2 L299.0,170.1 L299.5,170.1 L300.0,170.0 L300.5,169.9 L301.0,169.9 L301.5,169.8 L302.0,169.8 L302.5,169.7 L303.0,169.7 L303.5,169.6 L304.0,169.6 L304.5,169.5 L305.0,169.4 L305.5,169.4 L306.0,169.3 L306.5,169.3 L307.0,169.2 L307.5,169.2 L308.0,169.1 L308.5,169.1 L309.0,169.0 L309.5,169.0 L310.0,169.0 L310.5,168.9 L311.0,168.9 L311.5,168.9 L312.0,168.8 L312.5,168.8 L313.0,168.8 L313.5,168.8 L314.0,168.8 L314.5,168.8 L315.0,168.8 L315.5,168.8 L316.0,168.8 L316.5,168.8 L317.0,168.8 L317.5,168.8 L318.0,168.8 L318.5,168.8 L319.0,168.8 L319.5,168.8 L320.0,168.8 L320.5,168.8 L321.0,168.8 L321.5,168.8 L322.0,168.8 L322.5,168.8 L323.0,168.8 L323.5,168.8 L324.0,168.8 L324.5,168.8 L325.0,168.8" stroke="#f48c1e" stroke-dasharray="7.5 6.5"/>
<path d="M47.0,213.9 L47.5,213.2 L48.0,212.5 L48.5,211.7 L49.0,211.0 L49.5,210.3 L50.0,209.6 L50.5,208.9 L51.0,208.3 L51.5,207.7 L52.0,207.1 L52.5,206.6 L53.0,206.0 L53.5,205.5 L54.0,204.9 L54.5,204.5 L55.0,204.0 L55.5,203.5 L56.0,203.1 L56.5,202.7 L57.0,202.3 L57.5,201.9 L58.0,201.5 L58.5,201.1 L59.0,200.8 L59.5,200.4 L60.0,200.1 L60.5,199.7 L61.0,199.4 L61.5,199.0 L62.0,198.7 L62.5,198.4 L63.0,198.1 L63.5,197.8 L64.0,197.5 L64.5,197.2 L65.0,196.9 L65.5,196.6 L66.0,196.3 L66.5,196.1 L67.0,195.8 L67.5,195.5 L68.0,195.2 L68.5,194.9 L69.0,194.6 L69.5,194.4 L70.0,194.1 L70.5,193.8 L71.0,193.5 L71.5,193.2 L72.0,192.9 L72.5,192.7 L73.0,192.4 L73.5,192.1 L74.0,191.8 L74.5,191.5 L75.0,191.2 L75.5,190.9 L76.0,190.6 L76.5,190.4 L77.0,190.1 L77.5,189.8 L78.0,189.5 L78.5,189.2 L79.0,188.9 L79.5,188.6 L80.0,188.3 L80.5,188.0 L81.0,187.7 L81.5,187.4 L82.0,187.1 L82.5,186.8 L83.0,186.5 L83.5,186.2 L84.0,185.9 L84.5,185.7 L85.0,185.4 L85.5,185.1 L86.0,184.8 L86.5,184.5 L87.0,184.2 L87.5,183.9 L88.0,183.6 L88.5,183.3 L89.0,183.0 L89.5,182.7 L90.0,182.5 L90.5,182.2 L91.0,181.9 L91.5,181.6 L92.0,181.3 L92.5,181.0 L93.0,180.7 L93.5,180.5 L94.0,180.2 L94.5,179.9 L95.0,179.6 L95.5,179.3 L96.0,179.1 L96.5,178.8 L97.0,178.5 L97.5,178.2 L98.0,177.9 L98.5,177.6 L99.0,177.4 L99.5,177.1 L100.0,176.8 L100.5,176.5 L101.0,176.2 L101.5,175.9 L102.0,175.7 L102.5,175.4 L103.0,175.1 L103.5,174.8 L104.0,174.5 L104.5,174.2 L105.0,173.9 L105.5,173.6 L106.0,173.4 L106.5,173.1 L107.0,172.8 L107.5,172.5 L108.0,172.2 L108.5,171.9 L109.0,171.6 L109.5,171.3 L110.0,171.0 L110.5,170.8 L111.0,170.5 L111.5,170.2 L112.0,169.9 L112.5,169.6 L113.0,169.3 L113.5,169.0 L114.0,168.7 L114.5,168.4 L115.0,168.2 L115.5,167.9 L116.0,167.6 L116.5,167.4 L117.0,167.1 L117.5,166.9 L118.0,166.7 L118.5,166.5 L119.0,166.3 L119.5,166.1 L120.0,165.9 L120.5,165.7 L121.0,165.5 L121.5,165.4 L122.0,165.2 L122.5,165.1 L123.0,164.9 L123.5,164.8 L124.0,164.7 L124.5,164.5 L125.0,164.4 L125.5,164.3 L126.0,164.1 L126.5,164.0 L127.0,163.9 L127.5,163.7 L128.0,163.6 L128.5,163.5 L129.0,163.3 L129.5,163.2 L130.0,163.1 L130.5,162.9 L131.0,162.8 L131.5,162.7 L132.0,162.5 L132.5,162.4 L133.0,162.3 L133.5,162.1 L134.0,162.0 L134.5,161.9 L135.0,161.8 L135.5,161.6 L136.0,161.5 L136.5,161.4 L137.0,161.2 L137.5,161.1 L138.0,161.0 L138.5,160.8 L139.0,160.7 L139.5,160.6 L140.0,160.4 L140.5,160.3 L141.0,160.2 L141.5,160.1 L142.0,159.9 L142.5,159.8 L143.0,159.7 L143.5,159.6 L144.0,159.5 L144.5,159.4 L145.0,159.2 L145.5,159.1 L146.0,159.0 L146.5,158.9 L147.0,158.8 L147.5,158.7 L148.0,158.6 L148.5,158.5 L149.0,158.4 L149.5,158.2 L150.0,158.1 L150.5,158.0 L151.0,157.9 L151.5,157.8 L152.0,157.7 L152.5,157.6 L153.0,157.5 L153.5,157.4 L154.0,157.3 L154.5,157.1 L155.0,157.0 L155.5,156.9 L156.0,156.8 L156.5,156.7 L157.0,156.5 L157.5,156.4 L158.0,156.3 L158.5,156.1 L159.0,156.0 L159.5,155.8 L160.0,155.7 L160.5,155.5 L161.0,155.3 L161.5,155.2 L162.0,155.0 L162.5,154.8 L163.0,154.6 L163.5,154.5 L164.0,154.3 L164.5,154.1 L165.0,153.9 L165.5,153.8 L166.0,153.6 L166.5,153.4 L167.0,153.2 L167.5,153.1 L168.0,152.9 L168.5,152.7 L169.0,152.5 L169.5,152.3 L170.0,152.2 L170.5,152.0 L171.0,151.8 L171.5,151.6 L172.0,151.5 L172.5,151.3 L173.0,151.1 L173.5,150.9 L174.0,150.7 L174.5,150.5 L175.0,150.3 L175.5,150.1 L176.0,149.9 L176.5,149.7 L177.0,149.5 L177.5,149.3 L178.0,149.1 L178.5,148.9 L179.0,148.7 L179.5,148.5 L180.0,148.2 L180.5,148.0 L181.0,147.8 L181.5,147.6 L182.0,147.4 L182.5,147.2 L183.0,147.0 L183.5,146.7 L184.0,146.5 L184.5,146.3 L185.0,146.1 L185.5,145.9 L186.0,145.7 L186.5,145.5 L187.0,145.2 L187.5,145.0 L188.0,144.8 L188.5,144.6 L189.0,144.4 L189.5,144.2 L190.0,144.0 L190.5,143.7 L191.0,143.5 L191.5,143.3 L192.0,143.1 L192.5,142.9 L193.0,142.7 L193.5,142.5 L194.0,142.2 L194.5,142.0 L195.0,141.8 L195.5,141.6 L196.0,141.4 L196.5,141.2 L197.0,141.0 L197.5,140.8 L198.0,140.6 L198.5,140.5 L199.0,140.3 L199.5,140.1 L200.0,139.9 L200.5,139.8 L201.0,139.6 L201.5,139.5 L202.0,139.3 L202.5,139.2 L203.0,139.0 L203.5,138.9 L204.0,138.7 L204.5,138.6 L205.0,138.4 L205.5,138.3 L206.0,138.2 L206.5,138.0 L207.0,137.9 L207.5,137.7 L208.0,137.6 L208.5,137.5 L209.0,137.3 L209.5,137.2 L210.0,137.0 L210.5,136.9 L211.0,136.7 L211.5,136.6 L212.0,136.5 L212.5,136.3 L213.0,136.2 L213.5,136.0 L214.0,135.9 L214.5,135.8 L215.0,135.6 L215.5,135.5 L216.0,135.4 L216.5,135.3 L217.0,135.2 L217.5,135.1 L218.0,135.0 L218.5,134.9 L219.0,134.8 L219.5,134.7 L220.0,134.6 L220.5,134.6 L221.0,134.5 L221.5,134.4 L222.0,134.3 L222.5,134.3 L223.0,134.2 L223.5,134.1 L224.0,134.1 L224.5,134.0 L225.0,133.9 L225.5,133.9 L226.0,133.8 L226.5,133.7 L227.0,133.6 L227.5,133.6 L228.0,133.5 L228.5,133.4 L229.0,133.4 L229.5,133.3 L230.0,133.2 L230.5,133.2 L231.0,133.1 L231.5,133.0 L232.0,132.9 L232.5,132.9 L233.0,132.8 L233.5,132.7 L234.0,132.7 L234.5,132.6 L235.0,132.5 L235.5,132.5 L236.0,132.4 L236.5,132.3 L237.0,132.2 L237.5,132.2 L238.0,132.1 L238.5,132.0 L239.0,132.0 L239.5,131.9 L240.0,131.8 L240.5,131.8 L241.0,131.7 L241.5,131.6 L242.0,131.5 L242.5,131.4 L243.0,131.4 L243.5,131.3 L244.0,131.2 L244.5,131.1 L245.0,131.0 L245.5,130.8 L246.0,130.7 L246.5,130.6 L247.0,130.5 L247.5,130.4 L248.0,130.2 L248.5,130.1 L249.0,129.9 L249.5,129.8 L250.0,129.6 L250.5,129.5 L251.0,129.4 L251.5,129.2 L252.0,129.1 L252.5,128.9 L253.0,128.8 L253.5,128.6 L254.0,128.5 L254.5,128.3 L255.0,128.2 L255.5,128.0 L256.0,127.9 L256.5,127.7 L257.0,127.6 L257.5,127.4 L258.0,127.3 L258.5,127.1 L259.0,127.0 L259.5,126.9 L260.0,126.7 L260.5,126.6 L261.0,126.4 L261.5,126.3 L262.0,126.1 L262.5,126.0 L263.0,125.8 L263.5,125.7 L264.0,125.5 L264.5,125.4 L265.0,125.2 L265.5,125.1 L266.0,124.9 L266.5,124.8 L267.0,124.6 L267.5,124.5 L268.0,124.3 L268.5,124.2 L269.0,124.0 L269.5,123.9 L270.0,123.7 L270.5,123.6 L271.0,123.4 L271.5,123.3 L272.0,123.1 L272.5,123.0 L273.0,122.8 L273.5,122.6 L274.0,122.5 L274.5,122.3 L275.0,122.2 L275.5,122.0 L276.0,121.9 L276.5,121.7 L277.0,121.5 L277.5,121.4 L278.0,121.2 L278.5,121.1 L279.0,120.9 L279.5,120.8 L280.0,120.6 L280.5,120.4 L281.0,120.3 L281.5,120.1 L282.0,120.0 L282.5,119.8 L283.0,119.7 L283.5,119.5 L284.0,119.3 L284.5,119.2 L285.0,119.0 L285.5,118.9 L286.0,118.7 L286.5,118.6 L287.0,118.4 L287.5,118.3 L288.0,118.2 L288.5,118.1 L289.0,118.0 L289.5,117.9 L290.0,117.8 L290.5,117.7 L291.0,117.6 L291.5,117.5 L292.0,117.4 L292.5,117.4 L293.0,117.3 L293.5,117.2 L294.0,117.2 L294.5,117.1 L295.0,117.1 L295.5,117.0 L296.0,117.0 L296.5,116.9 L297.0,116.9 L297.5,116.8 L298.0,116.7 L298.5,116.7 L299.0,116.6 L299.5,116.6 L300.0,116.5 L300.5,116.5 L301.0,116.4 L301.5,116.4 L302.0,116.3 L302.5,116.2 L303.0,116.2 L303.5,116.1 L304.0,116.1 L304.5,116.1 L305.0,116.0 L305.5,116.0 L306.0,116.0 L306.5,116.0 L307.0,116.0 L307.5,116.0 L308.0,116.0 L308.5,116.1 L309.0,116.1 L309.5,116.1 L310.0,116.2 L310.5,116.2 L311.0,116.3 L311.5,116.3 L312.0,116.4 L312.5,116.5 L313.0,116.5 L313.5,116.6 L314.0,116.7 L314.5,116.7 L315.0,116.8 L315.5,116.8 L316.0,116.9 L316.5,117.0 L317.0,117.0 L317.5,117.1 L318.0,117.2 L318.5,117.2 L319.0,117.3 L319.5,117.3 L320.0,117.4 L320.5,117.5 L321.0,117.5 L321.5,117.6 L322.0,117.7 L322.5,117.7 L323.0,117.8 L323.5,117.9 L324.0,117.9 L324.5,118.0 L325.0,118.0" stroke="#ef6e1e" stroke-dasharray="4.4 1.3 1.8 1.3"/>
<path d="M47.0,213.9 L47.5,213.0 L48.0,212.1 L48.5,211.2 L49.0,210.4 L49.5,209.5 L50.0,208.6 L50.5,208.0 L51.0,207.4 L51.5,206.7 L52.0,206.1 L52.5,205.4 L53.0,204.9 L53.5,204.3 L54.0,203.8 L54.5,203.4 L55.0,202.9 L55.5,202.6 L56.0,202.2 L56.5,201.9 L57.0,201.6 L57.5,201.3 L58.0,201.0 L58.5,200.8 L59.0,200.5 L59.5,200.2 L60.0,200.0 L60.5,199.7 L61.0,199.4 L61.5,199.2 L62.0,198.9 L62.5,198.7 L63.0,198.4 L63.5,198.2 L64.0,197.9 L64.5,197.7 L65.0,197.4 L65.5,197.2 L66.0,196.9 L66.5,196.7 L67.0,196.4 L67.5,196.2 L68.0,195.9 L68.5,195.7 L69.0,195.4 L69.5,195.1 L70.0,194.9 L70.5,194.6 L71.0,194.4 L71.5,194.1 L72.0,193.8 L72.5,193.6 L73.0,193.3 L73.5,193.0 L74.0,192.7 L74.5,192.5 L75.0,192.2 L75.5,191.9 L76.0,191.6 L76.5,191.3 L77.0,191.0 L77.5,190.7 L78.0,190.5 L78.5,190.2 L79.0,189.9 L79.5,189.6 L80.0,189.3 L80.5,189.0 L81.0,188.7 L81.5,188.4 L82.0,188.2 L82.5,187.9 L83.0,187.6 L83.5,187.3 L84.0,187.1 L84.5,186.8 L85.0,186.6 L85.5,186.3 L86.0,186.0 L86.5,185.8 L87.0,185.5 L87.5,185.3 L88.0,185.0 L88.5,184.8 L89.0,184.6 L89.5,184.3 L90.0,184.1 L90.5,183.8 L91.0,183.6 L91.5,183.3 L92.0,183.1 L92.5,182.8 L93.0,182.6 L93.5,182.4 L94.0,182.1 L94.5,181.9 L95.0,181.6 L95.5,181.4 L96.0,181.1 L96.5,180.9 L97.0,180.7 L97.5,180.4 L98.0,180.2 L98.5,179.9 L99.0,179.7 L99.5,179.5 L100.0,179.2 L100.5,179.0 L101.0,178.8 L101.5,178.5 L102.0,178.3 L102.5,178.1 L103.0,177.9 L103.5,177.7 L104.0,177.5 L104.5,177.3 L105.0,177.1 L105.5,176.9 L106.0,176.7 L106.5,176.5 L107.0,176.3 L107.5,176.1 L108.0,175.9 L108.5,175.7 L109.0,175.5 L109.5,175.3 L110.0,175.1 L110.5,175.0 L111.0,174.8 L111.5,174.6 L112.0,174.4 L112.5,174.2 L113.0,174.0 L113.5,173.8 L114.0,173.6 L114.5,173.4 L115.0,173.3 L115.5,173.1 L116.0,172.9 L116.5,172.7 L117.0,172.6 L117.5,172.4 L118.0,172.2 L118.5,172.1 L119.0,171.9 L119.5,171.8 L120.0,171.6 L120.5,171.5 L121.0,171.3 L121.5,171.2 L122.0,171.0 L122.5,170.9 L123.0,170.8 L123.5,170.6 L124.0,170.5 L124.5,170.4 L125.0,170.3 L125.5,170.1 L126.0,170.0 L126.5,169.9 L127.0,169.7 L127.5,169.6 L128.0,169.5 L128.5,169.3 L129.0,169.2 L129.5,169.1 L130.0,168.9 L130.5,168.8 L131.0,168.7 L131.5,168.5 L132.0,168.4 L132.5,168.3 L133.0,168.1 L133.5,168.0 L134.0,167.9 L134.5,167.8 L135.0,167.6 L135.5,167.5 L136.0,167.4 L136.5,167.2 L137.0,167.1 L137.5,167.0 L138.0,166.8 L138.5,166.7 L139.0,166.6 L139.5,166.5 L140.0,166.3 L140.5,166.2 L141.0,166.1 L141.5,166.0 L142.0,165.9 L142.5,165.7 L143.0,165.6 L143.5,165.5 L144.0,165.4 L144.5,165.3 L145.0,165.2 L145.5,165.1 L146.0,165.0 L146.5,164.9 L147.0,164.8 L147.5,164.7 L148.0,164.6 L148.5,164.5 L149.0,164.4 L149.5,164.3 L150.0,164.2 L150.5,164.1 L151.0,164.0 L151.5,163.9 L152.0,163.8 L152.5,163.7 L153.0,163.6 L153.5,163.5 L154.0,163.4 L154.5,163.3 L155.0,163.2 L155.5,163.1 L156.0,163.0 L156.5,162.9 L157.0,162.8 L157.5,162.7 L158.0,162.6 L158.5,162.5 L159.0,162.3 L159.5,162.2 L160.0,162.1 L160.5,162.0 L161.0,161.9 L161.5,161.8 L162.0,161.7 L162.5,161.5 L163.0,161.4 L163.5,161.3 L164.0,161.2 L164.5,161.1 L165.0,161.0 L165.5,160.8 L166.0,160.7 L166.5,160.6 L167.0,160.5 L167.5,160.4 L168.0,160.3 L168.5,160.1 L169.0,160.0 L169.5,159.9 L170.0,159.8 L170.5,159.7 L171.0,159.5 L171.5,159.4 L172.0,159.3 L172.5,159.2 L173.0,159.0 L173.5,158.9 L174.0,158.8 L174.5,158.6 L175.0,158.5 L175.5,158.3 L176.0,158.2 L176.5,158.0 L177.0,157.9 L177.5,157.7 L178.0,157.5 L178.5,157.4 L179.0,157.2 L179.5,157.0 L180.0,156.9 L180.5,156.7 L181.0,156.5 L181.5,156.3 L182.0,156.2 L182.5,156.0 L183.0,155.8 L183.5,155.7 L184.0,155.5 L184.5,155.3 L185.0,155.1 L185.5,155.0 L186.0,154.8 L186.5,154.6 L187.0,154.5 L187.5,154.3 L188.0,154.1 L188.5,153.9 L189.0,153.8 L189.5,153.6 L190.0,153.4 L190.5,153.2 L191.0,153.1 L191.5,152.9 L192.0,152.7 L192.5,152.6 L193.0,152.4 L193.5,152.2 L194.0,152.0 L194.5,151.9 L195.0,151.7 L195.5,151.5 L196.0,151.3 L196.5,151.2 L197.0,151.0 L197.5,150.8 L198.0,150.7 L198.5,150.5 L199.0,150.3 L199.5,150.1 L200.0,150.0 L200.5,149.8 L201.0,149.6 L201.5,149.5 L202.0,149.3 L202.5,149.1 L203.0,148.9 L203.5,148.8 L204.0,148.6 L204.5,148.4 L205.0,148.2 L205.5,148.1 L206.0,147.9 L206.5,147.7 L207.0,147.6 L207.5,147.4 L208.0,147.2 L208.5,147.0 L209.0,146.9 L209.5,146.7 L210.0,146.5 L210.5,146.4 L211.0,146.2 L211.5,146.0 L212.0,145.9 L212.5,145.7 L213.0,145.6 L213.5,145.4 L214.0,145.3 L214.5,145.1 L215.0,145.0 L215.5,144.9 L216.0,144.8 L216.5,144.6 L217.0,144.5 L217.5,144.4 L218.0,144.3 L218.5,144.2 L219.0,144.1 L219.5,144.0 L220.0,143.8 L220.5,143.7 L221.0,143.6 L221.5,143.5 L222.0,143.4 L222.5,143.3 L223.0,143.2 L223.5,143.1 L224.0,143.0 L224.5,142.8 L225.0,142.7 L225.5,142.6 L226.0,142.5 L226.5,142.4 L227.0,142.3 L227.5,142.2 L228.0,142.1 L228.5,142.0 L229.0,141.9 L229.5,141.7 L230.0,141.6 L230.5,141.5 L231.0,141.4 L231.5,141.3 L232.0,141.2 L232.5,141.1 L233.0,141.0 L233.5,140.9 L234.0,140.8 L234.5,140.6 L235.0,140.5 L235.5,140.4 L236.0,140.3 L236.5,140.2 L237.0,140.1 L237.5,140.0 L238.0,139.9 L238.5,139.8 L239.0,139.6 L239.5,139.5 L240.0,139.4 L240.5,139.3 L241.0,139.2 L241.5,139.1 L242.0,139.0 L242.5,138.9 L243.0,138.8 L243.5,138.6 L244.0,138.5 L244.5,138.4 L245.0,138.3 L245.5,138.2 L246.0,138.1 L246.5,138.0 L247.0,137.8 L247.5,137.7 L248.0,137.6 L248.5,137.5 L249.0,137.4 L249.5,137.2 L250.0,137.1 L250.5,137.0 L251.0,136.9 L251.5,136.8 L252.0,136.6 L252.5,136.5 L253.0,136.4 L253.5,136.3 L254.0,136.2 L254.5,136.0 L255.0,135.9 L255.5,135.8 L256.0,135.7 L256.5,135.6 L257.0,135.4 L257.5,135.3 L258.0,135.2 L258.5,135.1 L259.0,135.0 L259.5,134.8 L260.0,134.7 L260.5,134.6 L261.0,134.5 L261.5,134.3 L262.0,134.2 L262.5,134.1 L263.0,134.0 L263.5,133.9 L264.0,133.7 L264.5,133.6 L265.0,133.5 L265.5,133.4 L266.0,133.3 L266.5,133.1 L267.0,133.0 L267.5,132.9 L268.0,132.8 L268.5,132.7 L269.0,132.5 L269.5,132.4 L270.0,132.3 L270.5,132.2 L271.0,132.0 L271.5,131.9 L272.0,131.8 L272.5,131.7 L273.0,131.5 L273.5,131.4 L274.0,131.3 L274.5,131.2 L275.0,131.0 L275.5,130.9 L276.0,130.8 L276.5,130.7 L277.0,130.5 L277.5,130.4 L278.0,130.3 L278.5,130.2 L279.0,130.0 L279.5,129.9 L280.0,129.8 L280.5,129.7 L281.0,129.5 L281.5,129.4 L282.0,129.3 L282.5,129.2 L283.0,129.0 L283.5,128.9 L284.0,128.8 L284.5,128.7 L285.0,128.5 L285.5,128.4 L286.0,128.3 L286.5,128.2 L287.0,128.0 L287.5,127.9 L288.0,127.8 L288.5,127.6 L289.0,127.5 L289.5,127.4 L290.0,127.3 L290.5,127.1 L291.0,127.0 L291.5,126.9 L292.0,126.8 L292.5,126.6 L293.0,126.5 L293.5,126.4 L294.0,126.3 L294.5,126.1 L295.0,126.0 L295.5,125.9 L296.0,125.7 L296.5,125.6 L297.0,125.5 L297.5,125.4 L298.0,125.2 L298.5,125.1 L299.0,125.0 L299.5,124.9 L300.0,124.7 L300.5,124.6 L301.0,124.5 L301.5,124.3 L302.0,124.2 L302.5,124.1 L303.0,124.0 L303.5,123.8 L304.0,123.7 L304.5,123.6 L305.0,123.5 L305.5,123.3 L306.0,123.2 L306.5,123.1 L307.0,123.0 L307.5,122.8 L308.0,122.7 L308.5,122.6 L309.0,122.4 L309.5,122.3 L310.0,122.2 L310.5,122.1 L311.0,121.9 L311.5,121.8 L312.0,121.7 L312.5,121.6 L313.0,121.4 L313.5,121.3 L314.0,121.2 L314.5,121.0 L315.0,120.9 L315.5,120.8 L316.0,120.7 L316.5,120.5 L317.0,120.4 L317.5,120.3 L318.0,120.2 L318.5,120.0 L319.0,119.9 L319.5,119.8 L320.0,119.6 L320.5,119.5 L321.0,119.4 L321.5,119.3 L322.0,119.1 L322.5,119.0 L323.0,118.9 L323.5,118.8 L324.0,118.6 L324.5,118.5 L325.0,118.4" stroke="#ee5523" />
<path d="M47.0,213.9 L47.5,212.9 L48.0,211.9 L48.5,211.0 L49.0,210.1 L49.5,209.3 L50.0,208.5 L50.5,207.8 L51.0,207.1 L51.5,206.3 L52.0,205.5 L52.5,204.7 L53.0,203.9 L53.5,203.1 L54.0,202.3 L54.5,201.5 L55.0,200.7 L55.5,199.9 L56.0,199.1 L56.5,198.4 L57.0,197.7 L57.5,197.0 L58.0,196.3 L58.5,195.7 L59.0,195.0 L59.5,194.4 L60.0,193.8 L60.5,193.2 L61.0,192.7 L61.5,192.1 L62.0,191.6 L62.5,191.1 L63.0,190.6 L63.5,190.1 L64.0,189.6 L64.5,189.1 L65.0,188.6 L65.5,188.1 L66.0,187.7 L66.5,187.2 L67.0,186.7 L67.5,186.3 L68.0,185.8 L68.5,185.4 L69.0,184.9 L69.5,184.6 L70.0,184.2 L70.5,183.9 L71.0,183.5 L71.5,183.2 L72.0,182.9 L72.5,182.6 L73.0,182.3 L73.5,182.0 L74.0,181.6 L74.5,181.3 L75.0,180.9 L75.5,180.5 L76.0,180.1 L76.5,179.7 L77.0,179.3 L77.5,178.8 L78.0,178.4 L78.5,177.9 L79.0,177.5 L79.5,177.1 L80.0,176.7 L80.5,176.3 L81.0,175.9 L81.5,175.5 L82.0,175.2 L82.5,174.8 L83.0,174.5 L83.5,174.2 L84.0,173.9 L84.5,173.6 L85.0,173.3 L85.5,173.0 L86.0,172.7 L86.5,172.4 L87.0,172.1 L87.5,171.8 L88.0,171.4 L88.5,171.1 L89.0,170.8 L89.5,170.4 L90.0,170.1 L90.5,169.7 L91.0,169.3 L91.5,169.0 L92.0,168.7 L92.5,168.3 L93.0,168.0 L93.5,167.7 L94.0,167.5 L94.5,167.2 L95.0,166.9 L95.5,166.7 L96.0,166.5 L96.5,166.2 L97.0,166.0 L97.5,165.8 L98.0,165.6 L98.5,165.3 L99.0,165.1 L99.5,164.8 L100.0,164.6 L100.5,164.3 L101.0,164.0 L101.5,163.7 L102.0,163.4 L102.5,163.1 L103.0,162.7 L103.5,162.4 L104.0,162.0 L104.5,161.6 L105.0,161.2 L105.5,160.9 L106.0,160.5 L106.5,160.1 L107.0,159.8 L107.5,159.4 L108.0,159.1 L108.5,158.7 L109.0,158.4 L109.5,158.0 L110.0,157.7 L110.5,157.3 L111.0,157.0 L111.5,156.6 L112.0,156.3 L112.5,156.0 L113.0,155.7 L113.5,155.3 L114.0,155.0 L114.5,154.7 L115.0,154.4 L115.5,154.0 L116.0,153.7 L116.5,153.4 L117.0,153.1 L117.5,152.7 L118.0,152.4 L118.5,152.1 L119.0,151.8 L119.5,151.4 L120.0,151.1 L120.5,150.8 L121.0,150.5 L121.5,150.2 L122.0,149.9 L122.5,149.6 L123.0,149.3 L123.5,149.0 L124.0,148.7 L124.5,148.4 L125.0,148.1 L125.5,147.8 L126.0,147.5 L126.5,147.2 L127.0,146.9 L127.5,146.6 L128.0,146.3 L128.5,146.0 L129.0,145.7 L129.5,145.4 L130.0,145.1 L130.5,144.8 L131.0,144.5 L131.5,144.2 L132.0,143.9 L132.5,143.6 L133.0,143.3 L133.5,143.0 L134.0,142.7 L134.5,142.4 L135.0,142.1 L135.5,141.8 L136.0,141.5 L136.5,141.2 L137.0,140.9 L137.5,140.6 L138.0,140.3 L138.5,140.0 L139.0,139.7 L139.5,139.4 L140.0,139.1 L140.5,138.8 L141.0,138.5 L141.5,138.2 L142.0,137.9 L142.5,137.6 L143.0,137.2 L143.5,136.9 L144.0,136.6 L144.5,136.3 L145.0,136.0 L145.5,135.7 L146.0,135.4 L146.5,135.1 L147.0,134.8 L147.5,134.5 L148.0,134.2 L148.5,133.9 L149.0,133.6 L149.5,133.3 L150.0,133.0 L150.5,132.7 L151.0,132.4 L151.5,132.1 L152.0,131.8 L152.5,131.5 L153.0,131.1 L153.5,130.8 L154.0,130.5 L154.5,130.2 L155.0,129.9 L155.5,129.6 L156.0,129.3 L156.5,129.0 L157.0,128.7 L157.5,128.4 L158.0,128.1 L158.5,127.8 L159.0,127.5 L159.5,127.2 L160.0,126.9 L160.5,126.6 L161.0,126.3 L161.5,126.0 L162.0,125.7 L162.5,125.4 L163.0,125.1 L163.5,124.7 L164.0,124.4 L164.5,124.1 L165.0,123.8 L165.5,123.5 L166.0,123.2 L166.5,122.9 L167.0,122.6 L167.5,122.3 L168.0,122.0 L168.5,121.7 L169.0,121.4 L169.5,121.1 L170.0,120.8 L170.5,120.6 L171.0,120.3 L171.5,120.0 L172.0,119.7 L172.5,119.5 L173.0,119.2 L173.5,118.9 L174.0,118.7 L174.5,118.4 L175.0,118.2 L175.5,117.9 L176.0,117.7 L176.5,117.4 L177.0,117.2 L177.5,117.0 L178.0,116.7 L178.5,116.5 L179.0,116.2 L179.5,116.0 L180.0,115.7 L180.5,115.5 L181.0,115.2 L181.5,115.0 L182.0,114.7 L182.5,114.4 L183.0,114.2 L183.5,113.9 L184.0,113.6 L184.5,113.3 L185.0,113.0 L185.5,112.7 L186.0,112.4 L186.5,112.1 L187.0,111.8 L187.5,111.4 L188.0,111.1 L188.5,110.8 L189.0,110.4 L189.5,110.1 L190.0,109.7 L190.5,109.4 L191.0,109.0 L191.5,108.7 L192.0,108.3 L192.5,108.0 L193.0,107.6 L193.5,107.3 L194.0,107.0 L194.5,106.6 L195.0,106.3 L195.5,105.9 L196.0,105.6 L196.5,105.2 L197.0,104.9 L197.5,104.5 L198.0,104.2 L198.5,103.8 L199.0,103.5 L199.5,103.1 L200.0,102.8 L200.5,102.4 L201.0,102.1 L201.5,101.8 L202.0,101.4 L202.5,101.1 L203.0,100.7 L203.5,100.4 L204.0,100.0 L204.5,99.7 L205.0,99.3 L205.5,99.0 L206.0,98.6 L206.5,98.3 L207.0,97.9 L207.5,97.6 L208.0,97.2 L208.5,96.9 L209.0,96.6 L209.5,96.2 L210.0,95.9 L210.5,95.5 L211.0,95.2 L211.5,94.8 L212.0,94.5 L212.5,94.2 L213.0,93.8 L213.5,93.5 L214.0,93.2 L214.5,92.8 L215.0,92.5 L215.5,92.2 L216.0,91.9 L216.5,91.5 L217.0,91.2 L217.5,90.9 L218.0,90.6 L218.5,90.3 L219.0,90.0 L219.5,89.7 L220.0,89.4 L220.5,89.0 L221.0,88.7 L221.5,88.4 L222.0,88.1 L222.5,87.8 L223.0,87.5 L223.5,87.2 L224.0,86.9 L224.5,86.6 L225.0,86.3 L225.5,85.9 L226.0,85.6 L226.5,85.3 L227.0,85.0 L227.5,84.7 L228.0,84.4 L228.5,84.1 L229.0,83.8 L229.5,83.5 L230.0,83.2 L230.5,82.9 L231.0,82.5 L231.5,82.2 L232.0,81.9 L232.5,81.6 L233.0,81.3 L233.5,81.0 L234.0,80.7 L234.5,80.4 L235.0,80.1 L235.5,79.8 L236.0,79.5 L236.5,79.1 L237.0,78.8 L237.5,78.5 L238.0,78.2 L238.5,77.9 L239.0,77.6 L239.5,77.3 L240.0,77.0 L240.5,76.7 L241.0,76.4 L241.5,76.1 L242.0,75.7 L242.5,75.4 L243.0,75.1 L243.5,74.8 L244.0,74.5 L244.5,74.2 L245.0,73.9 L245.5,73.6 L246.0,73.3 L246.5,73.0 L247.0,72.6 L247.5,72.3 L248.0,72.0 L248.5,71.7 L249.0,71.4 L249.5,71.1 L250.0,70.8 L250.5,70.5 L251.0,70.2 L251.5,69.9 L252.0,69.6 L252.5,69.2 L253.0,68.9 L253.5,68.6 L254.0,68.3 L254.5,68.0 L255.0,67.7 L255.5,67.4 L256.0,67.1 L256.5,66.8 L257.0,66.5 L257.5,66.2 L258.0,65.8 L258.5,65.5 L259.0,65.2 L259.5,64.9 L260.0,64.6 L260.5,64.3 L261.0,64.0 L261.5,63.7 L262.0,63.5 L262.5,63.2 L263.0,62.9 L263.5,62.7 L264.0,62.4 L264.5,62.2 L265.0,62.0 L265.5,61.7 L266.0,61.5 L266.5,61.3 L267.0,61.1 L267.5,60.9 L268.0,60.7 L268.5,60.5 L269.0,60.3 L269.5,60.1 L270.0,59.9 L270.5,59.7 L271.0,59.5 L271.5,59.3 L272.0,59.1 L272.5,58.9 L273.0,58.8 L273.5,58.6 L274.0,58.4 L274.5,58.2 L275.0,58.0 L275.5,57.8 L276.0,57.6 L276.5,57.4 L277.0,57.2 L277.5,57.0 L278.0,56.8 L278.5,56.6 L279.0,56.5 L279.5,56.3 L280.0,56.1 L280.5,55.9 L281.0,55.8 L281.5,55.6 L282.0,55.5 L282.5,55.3 L283.0,55.2 L283.5,55.1 L284.0,55.0 L284.5,54.8 L285.0,54.7 L285.5,54.6 L286.0,54.5 L286.5,54.4 L287.0,54.4 L287.5,54.3 L288.0,54.2 L288.5,54.1 L289.0,54.0 L289.5,53.9 L290.0,53.8 L290.5,53.7 L291.0,53.7 L291.5,53.6 L292.0,53.5 L292.5,53.4 L293.0,53.3 L293.5,53.2 L294.0,53.1 L294.5,53.0 L295.0,53.0 L295.5,52.9 L296.0,52.8 L296.5,52.7 L297.0,52.6 L297.5,52.5 L298.0,52.4 L298.5,52.3 L299.0,52.2 L299.5,52.2 L300.0,52.1 L300.5,52.0 L301.0,51.9 L301.5,51.8 L302.0,51.7 L302.5,51.6 L303.0,51.5 L303.5,51.5 L304.0,51.4 L304.5,51.3 L305.0,51.2 L305.5,51.1 L306.0,51.0 L306.5,50.9 L307.0,50.8 L307.5,50.8 L308.0,50.7 L308.5,50.6 L309.0,50.5 L309.5,50.4 L310.0,50.3 L310.5,50.2 L311.0,50.1 L311.5,50.0 L312.0,50.0 L312.5,49.9 L313.0,49.8 L313.5,49.7 L314.0,49.6 L314.5,49.5 L315.0,49.4 L315.5,49.3 L316.0,49.3 L316.5,49.2 L317.0,49.1 L317.5,49.0 L318.0,48.9 L318.5,48.8 L319.0,48.7 L319.5,48.6 L320.0,48.6 L320.5,48.5 L321.0,48.4 L321.5,48.3 L322.0,48.2 L322.5,48.1 L323.0,48.0 L323.5,47.9 L324.0,47.9 L324.5,47.8 L325.0,47.7" stroke="#e8281e" stroke-dasharray="7.5 6.5"/>
<path d="M47.0,213.9 L47.5,213.4 L48.0,212.8 L48.5,211.6 L49.0,210.1 L49.5,208.5 L50.0,207.0 L50.5,205.6 L51.0,204.3 L51.5,203.1 L52.0,201.8 L52.5,200.5 L53.0,199.2 L53.5,197.9 L54.0,196.6 L54.5,195.5 L55.0,194.3 L55.5,193.3 L56.0,192.3 L56.5,191.3 L57.0,190.4 L57.5,189.5 L58.0,188.6 L58.5,187.8 L59.0,186.9 L59.5,186.1 L60.0,185.3 L60.5,184.5 L61.0,183.7 L61.5,182.9 L62.0,182.1 L62.5,181.3 L63.0,180.6 L63.5,179.8 L64.0,179.0 L64.5,178.3 L65.0,177.6 L65.5,176.8 L66.0,176.1 L66.5,175.4 L67.0,174.7 L67.5,174.0 L68.0,173.3 L68.5,172.6 L69.0,171.9 L69.5,171.3 L70.0,170.6 L70.5,170.0 L71.0,169.3 L71.5,168.7 L72.0,168.0 L72.5,167.4 L73.0,166.7 L73.5,166.1 L74.0,165.5 L74.5,164.8 L75.0,164.2 L75.5,163.5 L76.0,162.9 L76.5,162.2 L77.0,161.6 L77.5,160.9 L78.0,160.3 L78.5,159.6 L79.0,159.0 L79.5,158.3 L80.0,157.7 L80.5,157.1 L81.0,156.4 L81.5,155.8 L82.0,155.2 L82.5,154.6 L83.0,153.9 L83.5,153.3 L84.0,152.7 L84.5,152.1 L85.0,151.5 L85.5,150.9 L86.0,150.4 L86.5,149.8 L87.0,149.2 L87.5,148.6 L88.0,148.0 L88.5,147.4 L89.0,146.9 L89.5,146.3 L90.0,145.7 L90.5,145.2 L91.0,144.6 L91.5,144.1 L92.0,143.6 L92.5,143.0 L93.0,142.5 L93.5,142.0 L94.0,141.5 L94.5,141.0 L95.0,140.5 L95.5,140.0 L96.0,139.5 L96.5,139.0 L97.0,138.5 L97.5,138.0 L98.0,137.5 L98.5,137.1 L99.0,136.6 L99.5,136.1 L100.0,135.6 L100.5,135.1 L101.0,134.6 L101.5,134.1 L102.0,133.6 L102.5,133.2 L103.0,132.7 L103.5,132.2 L104.0,131.7 L104.5,131.2 L105.0,130.7 L105.5,130.2 L106.0,129.7 L106.5,129.3 L107.0,128.8 L107.5,128.3 L108.0,127.8 L108.5,127.3 L109.0,126.8 L109.5,126.3 L110.0,125.8 L110.5,125.3 L111.0,124.9 L111.5,124.4 L112.0,123.9 L112.5,123.4 L113.0,122.9 L113.5,122.4 L114.0,121.9 L114.5,121.4 L115.0,121.0 L115.5,120.5 L116.0,120.0 L116.5,119.5 L117.0,119.0 L117.5,118.5 L118.0,118.0 L118.5,117.5 L119.0,117.1 L119.5,116.6 L120.0,116.1 L120.5,115.6 L121.0,115.1 L121.5,114.6 L122.0,114.1 L122.5,113.6 L123.0,113.2 L123.5,112.7 L124.0,112.2 L124.5,111.7 L125.0,111.2 L125.5,110.7 L126.0,110.2 L126.5,109.7 L127.0,109.3 L127.5,108.8 L128.0,108.3 L128.5,107.9 L129.0,107.4 L129.5,107.0 L130.0,106.6 L130.5,106.1 L131.0,105.7 L131.5,105.3 L132.0,104.9 L132.5,104.5 L133.0,104.1 L133.5,103.8 L134.0,103.4 L134.5,103.0 L135.0,102.7 L135.5,102.3 L136.0,102.0 L136.5,101.6 L137.0,101.3 L137.5,100.9 L138.0,100.5 L138.5,100.2 L139.0,99.8 L139.5,99.5 L140.0,99.1 L140.5,98.8 L141.0,98.4 L141.5,98.1 L142.0,97.7 L142.5,97.3 L143.0,97.0 L143.5,96.6 L144.0,96.3 L144.5,95.9 L145.0,95.6 L145.5,95.2 L146.0,94.9 L146.5,94.5 L147.0,94.2 L147.5,93.8 L148.0,93.4 L148.5,93.1 L149.0,92.7 L149.5,92.4 L150.0,92.0 L150.5,91.7 L151.0,91.3 L151.5,91.0 L152.0,90.6 L152.5,90.3 L153.0,89.9 L153.5,89.5 L154.0,89.2 L154.5,88.8 L155.0,88.5 L155.5,88.1 L156.0,87.8 L156.5,87.4 L157.0,87.1 L157.5,86.7 L158.0,86.3 L158.5,86.0 L159.0,85.6 L159.5,85.3 L160.0,84.9 L160.5,84.6 L161.0,84.2 L161.5,83.9 L162.0,83.5 L162.5,83.2 L163.0,82.8 L163.5,82.4 L164.0,82.1 L164.5,81.7 L165.0,81.4 L165.5,81.0 L166.0,80.7 L166.5,80.3 L167.0,80.0 L167.5,79.6 L168.0,79.3 L168.5,78.9 L169.0,78.6 L169.5,78.3 L170.0,78.0 L170.5,77.6 L171.0,77.3 L171.5,77.0 L172.0,76.7 L172.5,76.5 L173.0,76.2 L173.5,75.9 L174.0,75.6 L174.5,75.4 L175.0,75.1 L175.5,74.8 L176.0,74.6 L176.5,74.3 L177.0,74.1 L177.5,73.8 L178.0,73.6 L178.5,73.3 L179.0,73.1 L179.5,72.8 L180.0,72.5 L180.5,72.3 L181.0,72.0 L181.5,71.8 L182.0,71.5 L182.5,71.3 L183.0,71.0 L183.5,70.8 L184.0,70.5 L184.5,70.3 L185.0,70.0 L185.5,69.7 L186.0,69.5 L186.5,69.2 L187.0,69.0 L187.5,68.7 L188.0,68.5 L188.5,68.2 L189.0,68.0 L189.5,67.7 L190.0,67.5 L190.5,67.2 L191.0,66.9 L191.5,66.7 L192.0,66.4 L192.5,66.2 L193.0,65.9 L193.5,65.7 L194.0,65.4 L194.5,65.2 L195.0,64.9 L195.5,64.7 L196.0,64.4 L196.5,64.2 L197.0,63.9 L197.5,63.7 L198.0,63.4 L198.5,63.2 L199.0,62.9 L199.5,62.7 L200.0,62.4 L200.5,62.1 L201.0,61.9 L201.5,61.6 L202.0,61.4 L202.5,61.1 L203.0,60.9 L203.5,60.6 L204.0,60.4 L204.5,60.1 L205.0,59.9 L205.5,59.6 L206.0,59.4 L206.5,59.1 L207.0,58.9 L207.5,58.6 L208.0,58.4 L208.5,58.1 L209.0,57.9 L209.5,57.6 L210.0,57.4 L210.5,57.1 L211.0,56.9 L211.5,56.6 L212.0,56.3 L212.5,56.1 L213.0,55.8 L213.5,55.5 L214.0,55.3 L214.5,55.0 L215.0,54.7 L215.5,54.4 L216.0,54.1 L216.5,53.8 L217.0,53.6 L217.5,53.3 L218.0,53.0 L218.5,52.7 L219.0,52.4 L219.5,52.0 L220.0,51.7 L220.5,51.4 L221.0,51.1 L221.5,50.8 L222.0,50.5 L222.5,50.2 L223.0,49.9 L223.5,49.6 L224.0,49.3 L224.5,49.0 L225.0,48.6 L225.5,48.3 L226.0,48.0 L226.5,47.7 L227.0,47.4 L227.5,47.1 L228.0,46.8 L228.5,46.5 L229.0,46.2 L229.5,45.9 L230.0,45.6 L230.5,45.3 L231.0,44.9 L231.5,44.6 L232.0,44.3 L232.5,44.0 L233.0,43.7 L233.5,43.4 L234.0,43.1 L234.5,42.8 L235.0,42.5 L235.5,42.2 L236.0,41.9 L236.5,41.6 L237.0,41.3 L237.5,41.0 L238.0,40.7 L238.5,40.5 L239.0,40.2 L239.5,39.9 L240.0,39.6 L240.5,39.4 L241.0,39.1 L241.5,38.9 L242.0,38.6 L242.5,38.3 L243.0,38.1 L243.5,37.8 L244.0,37.6 L244.5,37.3 L245.0,37.1 L245.5,36.8 L246.0,36.5 L246.5,36.3 L247.0,36.0 L247.5,35.8 L248.0,35.5 L248.5,35.3 L249.0,35.0 L249.5,34.7 L250.0,34.5 L250.5,34.2 L251.0,34.0 L251.5,33.7 L252.0,33.5 L252.5,33.2 L253.0,32.9 L253.5,32.7 L254.0,32.4 L254.5,32.2 L255.0,31.9 L255.5,31.7 L256.0,31.4 L256.5,31.1 L257.0,30.9 L257.5,30.6 L258.0,30.4 L258.5,30.1 L259.0,29.9 L259.5,29.6 L260.0,29.4 L260.5,29.1 L261.0,28.8 L261.5,28.6 L262.0,28.3 L262.5,28.1 L263.0,27.9 L263.5,27.6 L264.0,27.4 L264.5,27.1 L265.0,26.9 L265.5,26.6 L266.0,26.4 L266.5,26.2 L267.0,25.9 L267.5,25.7 L268.0,25.4 L268.5,25.2 L269.0,25.0" stroke="#e61428" stroke-dasharray="2 1.7"/>
</g>
<rect x="47" y="29" width="278" height="196.4" fill="none" stroke="#707070" stroke-width="1.4"/>
<path d="M102.6,225.4v-3M102.6,29v3 M158.2,225.4v-3M158.2,29v3 M213.8,225.4v-3M213.8,29v3 M269.4,225.4v-3M269.4,29v3 M47,192.7h3M325,192.7h-3 M47,159.9h3M325,159.9h-3 M47,127.2h3M325,127.2h-3 M47,94.5h3M325,94.5h-3 M47,61.8h3M325,61.8h-3" stroke="#404040" stroke-width="1" fill="none"/>
<text transform="translate(43.6,230.1) scale(1,1.16)" class="ser tk" font-size="14.8" text-anchor="end">0</text>
<text transform="translate(44.6,197.4) scale(1,1.16)" class="ser tk" font-size="14.8" text-anchor="end">10</text>
<text transform="translate(44.6,164.6) scale(1,1.16)" class="ser tk" font-size="14.8" text-anchor="end">20</text>
<text transform="translate(44.6,131.9) scale(1,1.16)" class="ser tk" font-size="14.8" text-anchor="end">30</text>
<text transform="translate(44.6,99.2) scale(1,1.16)" class="ser tk" font-size="14.8" text-anchor="end">40</text>
<text transform="translate(44.6,66.5) scale(1,1.16)" class="ser tk" font-size="14.8" text-anchor="end">50</text>
<text transform="translate(44.6,33.7) scale(1,1.16)" class="ser tk" font-size="14.8" text-anchor="end">60</text>
<text transform="translate(47.2,241.8) scale(1,1.16)" class="ser tk" font-size="14.8" text-anchor="middle">0</text>
<text transform="translate(104.4,241.8) scale(1,1.16)" class="ser tk" font-size="14.8" text-anchor="middle">200</text>
<text transform="translate(160.0,241.8) scale(1,1.16)" class="ser tk" font-size="14.8" text-anchor="middle">400</text>
<text transform="translate(215.6,241.8) scale(1,1.16)" class="ser tk" font-size="14.8" text-anchor="middle">600</text>
<text transform="translate(271.2,241.8) scale(1,1.16)" class="ser tk" font-size="14.8" text-anchor="middle">800</text>
<text transform="translate(326.8,241.8) scale(1,1.16)" class="ser tk" font-size="14.8" text-anchor="middle">1000</text>
<text x="127" y="257.5" class="ser" font-size="14" letter-spacing="0.5">Filtering Time [<tspan font-style="italic">ms</tspan>]</text>
<text transform="translate(22.3,127.2) rotate(-90)" class="ser" font-size="14.5" text-anchor="middle">SNR</text>
<rect x="51.5" y="31.5" width="119" height="111.5" fill="#fff" stroke="#000" stroke-width="0.9"/>
<path d="M54.4,40.0H85.8" stroke="#f0dc00" stroke-width="2" />
<text x="88.3" y="44.4" class="ser" font-size="11.5">pulse9 - E=184J</text>
<path d="M54.4,53.5H85.8" stroke="#f8c800" stroke-width="2" stroke-dasharray="7.9 1.6 3.8 1.6"/>
<text x="88.3" y="57.9" class="ser" font-size="11.5">pulse10 - E=230J</text>
<path d="M54.4,67.1H85.8" stroke="#f6a814" stroke-width="2" stroke-dasharray="2 1.7"/>
<text x="88.3" y="71.5" class="ser" font-size="11.5">pulse11 - E=288J</text>
<path d="M54.4,80.6H85.8" stroke="#f48c1e" stroke-width="2" stroke-dasharray="7.9 7"/>
<text x="88.3" y="85.0" class="ser" font-size="11.5">pulse12 - E=345J</text>
<path d="M54.4,94.1H85.8" stroke="#ef6e1e" stroke-width="2" stroke-dasharray="7.9 1.6 3.8 1.6"/>
<text x="88.3" y="98.5" class="ser" font-size="11.5">pulse13 - E=403J</text>
<path d="M54.4,107.6H85.8" stroke="#ee5523" stroke-width="2" />
<text x="88.3" y="112.0" class="ser" font-size="11.5">pulse14 - E=460J</text>
<path d="M54.4,121.2H85.8" stroke="#e8281e" stroke-width="2" stroke-dasharray="7.9 7"/>
<text x="88.3" y="125.6" class="ser" font-size="11.5">pulse15 - E=518J</text>
<path d="M54.4,134.7H85.8" stroke="#e61428" stroke-width="2" stroke-dasharray="2 1.7"/>
<text x="88.3" y="139.1" class="ser" font-size="11.5">pulse16 - E=575J</text>
</g>
<text x="12" y="272" class="lab">b)</text>
<path d="M49.5,448.7 L50.2,448.7 L50.9,449.5 L51.6,448.2 L52.3,447.8 L53.0,447.9 L53.7,447.9 L54.4,450.5 L55.1,448.4 L55.8,448.4 L56.5,448.5 L57.2,448.4 L57.9,448.6 L58.6,448.9 L59.3,442.6 L60.0,434.3 L60.7,428.9 L61.4,428.9 L62.1,425.6 L62.8,426.5 L63.5,427.3 L64.2,431.9 L64.9,432.7 L65.6,433.0 L66.3,433.8 L67.0,435.0 L67.7,435.9 L68.4,436.6 L69.1,438.0 L69.8,438.5 L70.5,436.4 L71.2,437.0 L71.9,437.8 L72.6,438.5 L73.3,439.1 L74.0,441.6 L74.7,442.2 L75.4,442.8 L76.1,440.3 L76.8,441.6 L77.5,441.8 L78.2,442.0 L78.9,443.7 L79.6,443.9 L80.3,444.0 L81.0,440.7 L81.7,443.0 L82.4,443.2 L83.1,443.3 L83.8,440.3 L84.5,444.2 L85.2,445.0 L85.9,443.3 L86.6,444.5 L87.3,444.7 L88.0,444.9 L88.7,446.2 L89.4,445.8 L90.1,445.5 L90.8,446.5 L91.5,446.6 L92.2,446.8 L92.9,446.2 L93.6,446.6 L94.3,446.4 L95.0,446.9 L95.7,449.3 L96.4,448.1 L97.1,447.8 L97.8,446.9 L98.5,445.5 L99.2,438.1 L99.9,427.7 L100.6,424.6 L101.3,426.1 L102.0,427.9 L102.7,428.8 L103.4,425.8 L104.1,430.0 L104.8,429.4 L105.5,429.8 L106.2,430.9 L106.9,431.4 L107.6,433.6 L108.3,434.1 L109.0,434.5 L109.7,432.8 L110.4,434.6 L111.1,435.0 L111.8,435.4 L112.5,435.9 L113.2,436.1 L113.9,436.4 L114.6,435.9 L115.3,436.9 L116.0,436.2 L116.7,436.4 L117.4,436.7 L118.1,436.9 L118.8,437.1 L119.5,438.5 L120.2,438.7 L120.9,438.6 L121.6,439.5 L122.3,438.1 L123.0,438.8 L123.7,440.0 L124.4,440.4 L125.1,437.8 L125.8,440.1 L126.5,442.1 L127.2,442.3 L127.9,442.6 L128.6,441.5 L129.3,441.9 L130.0,441.4 L130.7,440.9 L131.4,442.1 L132.1,442.5 L132.8,443.1 L133.5,445.3 L134.2,448.2 L134.9,449.8 L135.6,449.8 L136.3,449.1 L137.0,447.9 L137.7,445.2 L138.4,441.1 L139.1,438.7 L139.8,434.0 L140.5,428.4 L141.2,426.3 L141.9,426.8 L142.6,426.2 L143.3,427.7 L144.0,430.2 L144.7,431.2 L145.4,432.2 L146.1,433.8 L146.8,434.8 L147.5,432.8 L148.2,433.8 L148.9,434.7 L149.6,437.6 L150.3,437.4 L151.0,436.6 L151.7,437.3 L152.4,438.0 L153.1,440.4 L153.8,441.1 L154.5,441.8 L155.2,445.1 L155.9,445.4 L156.6,445.7 L157.3,444.3 L158.0,444.5 L158.7,444.8 L159.4,445.7 L160.1,445.9 L160.8,446.4 L161.5,446.7 L162.2,446.9 L162.9,444.6 L163.6,445.5 L164.3,445.7 L165.0,448.0 L165.7,447.2 L166.4,447.4 L167.1,447.6 L167.8,448.9 L168.5,449.1 L169.2,447.5 L169.9,447.6 L170.6,448.5 L171.3,447.8 L172.0,448.1 L172.7,450.0 L173.4,450.6 L174.1,450.9 L174.8,450.6 L175.5,451.0 L176.2,451.1 L176.9,450.1 L177.6,449.9 L178.3,445.9 L179.0,442.6 L179.7,438.7 L180.4,432.9 L181.1,427.4 L181.8,422.4 L182.5,419.0 L183.2,420.0 L183.9,423.4 L184.6,425.8 L185.3,428.7 L186.0,429.1 L186.7,431.0 L187.4,432.2 L188.1,433.8 L188.8,434.5 L189.5,434.5 L190.2,435.2 L190.9,435.9 L191.6,438.4 L192.3,439.1 L193.0,439.7 L193.7,439.8 L194.4,440.3 L195.1,441.7 L195.8,442.1 L196.5,439.9 L197.2,440.3 L197.9,441.8 L198.6,442.2 L199.3,442.6 L200.0,443.6 L200.7,443.9 L201.4,444.2 L202.1,446.6 L202.8,444.4 L203.5,444.7 L204.2,447.4 L204.9,447.7 L205.6,445.6 L206.3,445.8 L207.0,445.9 L207.7,448.0 L208.4,448.1 L209.1,448.2 L209.8,448.7 L210.5,448.7 L211.2,445.2 L211.9,448.0 L212.6,448.1 L213.3,446.6 L214.0,446.7 L214.7,445.5 L215.4,445.6 L216.1,449.6 L216.8,448.5 L217.5,447.2 L218.2,447.4 L218.9,448.1 L219.6,448.2 L220.3,449.7 L221.0,449.9 L221.7,450.0 L222.4,448.4 L223.1,449.0 L223.8,449.1 L224.5,449.2 L225.2,449.1 L225.9,449.4 L226.6,445.4 L227.3,440.8 L228.0,432.4 L228.7,426.5 L229.4,423.8 L230.1,417.5 L230.8,411.4 L231.5,405.7 L232.2,404.5 L232.9,404.7 L233.6,408.8 L234.3,415.5 L235.0,417.7 L235.7,419.6 L236.4,420.8 L237.1,422.7 L237.8,426.7 L238.5,428.4 L239.2,429.0 L239.9,427.2 L240.6,427.9 L241.3,430.7 L242.0,431.4 L242.7,430.4 L243.4,432.3 L244.1,433.0 L244.8,433.7 L245.5,433.0 L246.2,435.3 L246.9,436.0 L247.6,437.4 L248.3,438.0 L249.0,438.9 L249.7,439.4 L250.4,438.9 L251.1,439.9 L251.8,440.4 L252.5,440.8 L253.2,440.1 L253.9,441.2 L254.6,440.6 L255.3,441.1 L256.0,440.2 L256.7,440.7 L257.4,441.3 L258.1,443.3 L258.8,443.6 L259.5,443.9 L260.2,444.4 L260.9,444.7 L261.6,445.0 L262.3,445.5 L263.0,446.5 L263.7,446.8 L264.4,446.0 L265.1,446.3 L265.8,446.6 L266.5,447.7 L267.2,448.4 L267.9,448.7 L268.6,450.0 L269.3,450.3 L270.0,449.0 L270.7,449.2 L271.4,449.6 L272.1,449.9 L272.8,450.0 L273.5,450.3 L274.2,449.6 L274.9,450.0 L275.6,447.1 L276.3,442.5 L277.0,437.1 L277.7,433.6 L278.4,425.9 L279.1,421.0 L279.8,415.4 L280.5,409.6 L281.2,403.0 L281.9,398.3 L282.6,395.2 L283.3,391.3 L284.0,388.4 L284.7,385.9 L285.4,383.9 L286.1,385.4 L286.8,388.9 L287.5,393.4 L288.2,398.1 L288.9,403.0 L289.6,406.0 L290.3,409.6 L291.0,413.5 L291.7,413.0 L292.4,414.3 L293.1,417.1 L293.8,418.5 L294.5,420.0 L295.2,421.6 L295.9,423.0 L296.6,422.6 L297.3,424.0 L298.0,426.0 L298.7,426.8 L299.4,426.2 L300.1,428.7 L300.8,429.4 L301.5,429.3 L302.2,429.8 L302.9,431.0 L303.6,430.7 L304.3,431.2 L305.0,432.0 L305.7,432.7 L306.4,435.2 L307.1,433.6 L307.8,433.9 L308.5,434.3 L309.2,435.1 L309.9,435.5 L310.6,436.6 L311.3,435.3 L312.0,437.4 L312.7,437.8 L313.4,439.1 L314.1,439.6 L314.8,440.0 L315.5,439.5 L316.2,437.6 L316.9,436.9 L317.6,440.2 L318.3,440.6 L319.0,442.2 L319.7,443.1 L320.4,443.5 L321.1,443.5 L321.8,444.0 L321.8,452.2 L321.1,452.0 L320.4,451.7 L319.7,451.4 L319.0,449.7 L318.3,450.3 L317.6,450.0 L316.9,450.5 L316.2,448.0 L315.5,448.9 L314.8,447.6 L314.1,447.3 L313.4,447.0 L312.7,448.9 L312.0,448.5 L311.3,447.9 L310.6,445.8 L309.9,446.3 L309.2,445.9 L308.5,445.7 L307.8,445.3 L307.1,444.9 L306.4,445.1 L305.7,443.4 L305.0,442.8 L304.3,442.1 L303.6,442.1 L302.9,440.4 L302.2,442.8 L301.5,442.0 L300.8,440.0 L300.1,439.2 L299.4,438.1 L298.7,435.3 L298.0,434.5 L297.3,434.5 L296.6,433.4 L295.9,431.4 L295.2,430.3 L294.5,430.7 L293.8,429.4 L293.1,428.1 L292.4,427.6 L291.7,423.7 L291.0,423.5 L290.3,423.1 L289.6,422.2 L288.9,419.3 L288.2,416.2 L287.5,414.6 L286.8,411.1 L286.1,405.1 L285.4,404.8 L284.7,408.3 L284.0,413.1 L283.3,419.1 L282.6,424.9 L281.9,433.2 L281.2,435.8 L280.5,440.8 L279.8,446.6 L279.1,452.5 L278.4,460.3 L277.7,461.1 L277.0,462.9 L276.3,462.9 L275.6,462.9 L274.9,462.6 L274.2,462.3 L273.5,460.8 L272.8,460.6 L272.1,462.3 L271.4,462.0 L270.7,460.6 L270.0,459.3 L269.3,463.0 L268.6,462.7 L267.9,458.7 L267.2,458.5 L266.5,459.1 L265.8,458.6 L265.1,458.3 L264.4,458.0 L263.7,460.2 L263.0,459.9 L262.3,458.9 L261.6,460.0 L260.9,459.7 L260.2,459.4 L259.5,455.3 L258.8,455.0 L258.1,454.7 L257.4,455.0 L256.7,454.5 L256.0,454.1 L255.3,454.2 L254.6,453.7 L253.9,452.6 L253.2,455.4 L252.5,451.6 L251.8,451.5 L251.1,451.0 L250.4,451.7 L249.7,452.1 L249.0,451.6 L248.3,452.4 L247.6,452.1 L246.9,449.2 L246.2,448.9 L245.5,447.8 L244.8,447.9 L244.1,447.6 L243.4,447.1 L242.7,447.9 L242.0,447.7 L241.3,447.1 L240.6,444.7 L239.9,444.2 L239.2,443.8 L238.5,444.2 L237.8,443.7 L237.1,441.7 L236.4,441.2 L235.7,445.1 L235.0,444.6 L234.3,441.7 L233.6,439.3 L232.9,438.9 L232.2,440.3 L231.5,442.5 L230.8,444.7 L230.1,449.4 L229.4,453.8 L228.7,453.9 L228.0,456.7 L227.3,458.1 L226.6,459.1 L225.9,460.0 L225.2,459.9 L224.5,459.7 L223.8,459.6 L223.1,459.5 L222.4,460.2 L221.7,461.1 L221.0,461.0 L220.3,460.9 L219.6,459.5 L218.9,459.4 L218.2,459.5 L217.5,459.4 L216.8,458.0 L216.1,459.6 L215.4,459.9 L214.7,459.8 L214.0,457.8 L213.3,457.7 L212.6,458.1 L211.9,458.0 L211.2,459.2 L210.5,457.2 L209.8,457.1 L209.1,460.7 L208.4,460.6 L207.7,460.4 L207.0,457.8 L206.3,457.6 L205.6,457.4 L204.9,459.1 L204.2,458.6 L203.5,457.3 L202.8,456.9 L202.1,454.3 L201.4,454.3 L200.7,453.8 L200.0,453.4 L199.3,452.9 L198.6,452.6 L197.9,452.4 L197.2,453.4 L196.5,453.1 L195.8,452.2 L195.1,451.9 L194.4,450.9 L193.7,450.4 L193.0,449.8 L192.3,449.1 L191.6,448.2 L190.9,447.4 L190.2,446.6 L189.5,446.9 L188.8,445.3 L188.1,444.4 L187.4,443.7 L186.7,442.6 L186.0,441.9 L185.3,444.9 L184.6,442.6 L183.9,442.5 L183.2,440.7 L182.5,440.6 L181.8,447.3 L181.1,451.3 L180.4,455.2 L179.7,460.8 L179.0,462.8 L178.3,461.1 L177.6,462.8 L176.9,464.6 L176.2,464.7 L175.5,464.0 L174.8,463.7 L174.1,463.2 L173.4,463.0 L172.7,461.2 L172.0,461.0 L171.3,460.8 L170.6,462.0 L169.9,461.8 L169.2,460.1 L168.5,460.1 L167.8,459.9 L167.1,459.6 L166.4,459.5 L165.7,459.4 L165.0,460.8 L164.3,459.3 L163.6,459.2 L162.9,461.2 L162.2,461.0 L161.5,460.6 L160.8,460.1 L160.1,457.5 L159.4,457.0 L158.7,457.3 L158.0,456.9 L157.3,456.4 L156.6,457.4 L155.9,456.9 L155.2,456.5 L154.5,453.9 L153.8,453.6 L153.1,453.4 L152.4,455.2 L151.7,454.9 L151.0,454.7 L150.3,453.3 L149.6,452.0 L148.9,451.9 L148.2,451.1 L147.5,450.2 L146.8,449.4 L146.1,448.6 L145.4,447.1 L144.7,446.3 L144.0,445.4 L143.3,447.2 L142.6,445.9 L141.9,444.3 L141.2,443.5 L140.5,448.1 L139.8,452.7 L139.1,457.4 L138.4,460.2 L137.7,461.8 L137.0,462.9 L136.3,461.5 L135.6,461.7 L134.9,460.3 L134.2,458.4 L133.5,460.1 L132.8,455.1 L132.1,454.2 L131.4,454.1 L130.7,451.6 L130.0,451.6 L129.3,452.9 L128.6,452.7 L127.9,451.6 L127.2,451.5 L126.5,454.4 L125.8,452.2 L125.1,452.6 L124.4,453.2 L123.7,453.1 L123.0,451.6 L122.3,450.5 L121.6,450.4 L120.9,451.0 L120.2,450.1 L119.5,452.2 L118.8,450.7 L118.1,450.4 L117.4,450.1 L116.7,450.0 L116.0,449.7 L115.3,449.1 L114.6,450.8 L113.9,448.6 L113.2,448.3 L112.5,448.0 L111.8,448.3 L111.1,447.9 L110.4,447.4 L109.7,445.2 L109.0,446.2 L108.3,445.7 L107.6,445.2 L106.9,444.1 L106.2,443.6 L105.5,442.6 L104.8,442.1 L104.1,444.0 L103.4,443.0 L102.7,441.9 L102.0,442.0 L101.3,443.0 L100.6,443.8 L99.9,450.6 L99.2,455.4 L98.5,458.7 L97.8,460.4 L97.1,460.1 L96.4,457.3 L95.7,457.0 L95.0,457.9 L94.3,457.8 L93.6,457.9 L92.9,457.8 L92.2,457.9 L91.5,457.7 L90.8,457.5 L90.1,457.2 L89.4,455.5 L88.7,456.7 L88.0,455.0 L87.3,454.8 L86.6,454.6 L85.9,455.9 L85.2,456.4 L84.5,456.1 L83.8,454.1 L83.1,455.0 L82.4,454.7 L81.7,454.4 L81.0,454.2 L80.3,453.6 L79.6,453.3 L78.9,453.0 L78.2,451.9 L77.5,451.6 L76.8,451.4 L76.1,452.4 L75.4,450.2 L74.7,450.2 L74.0,449.9 L73.3,449.9 L72.6,449.5 L71.9,448.7 L71.2,450.1 L70.5,449.7 L69.8,449.3 L69.1,449.0 L68.4,446.5 L67.7,446.2 L67.0,446.1 L66.3,447.1 L65.6,447.0 L64.9,447.9 L64.2,447.9 L63.5,447.0 L62.8,447.0 L62.1,447.0 L61.4,447.1 L60.7,446.6 L60.0,452.3 L59.3,457.9 L58.6,461.9 L57.9,460.0 L57.2,459.7 L56.5,462.8 L55.8,462.7 L55.1,462.7 L54.4,461.3 L53.7,462.0 L53.0,462.0 L52.3,461.9 L51.6,460.1 L50.9,463.1 L50.2,461.1 L49.5,461.1Z" fill="#4042a4" stroke="#4042a4" stroke-width="0.8" stroke-linejoin="round"/>
<path d="M49.6,452.6 L51.3,452.8 L53.1,453.1 L54.9,453.4 L56.3,453.5 L57.3,453.2 L57.5,452.9 L57.6,452.6 L57.7,452.3 L57.7,451.8 L57.7,451.3 L57.9,449.0 L58.0,445.8 L58.0,442.0 L58.1,438.0 L58.2,434.1 L58.3,429.3 L58.4,424.2 L58.6,419.0 L58.7,414.0 L58.9,409.6 L59.1,406.9 L59.2,404.5 L59.4,402.2 L59.6,400.0 L59.9,398.0 L60.1,396.4 L60.4,394.6 L60.7,393.1 L60.9,391.9 L61.2,391.5 L61.5,392.2 L61.8,393.9 L62.1,396.3 L62.4,398.9 L62.6,401.4 L62.8,404.4 L62.9,407.7 L63.0,411.0 L63.0,414.4 L63.1,417.7 L63.2,420.8 L63.3,423.9 L63.4,426.9 L63.5,429.8 L63.8,432.5 L64.1,434.5 L64.4,436.5 L64.7,438.4 L65.2,440.1 L65.9,441.5 L66.6,442.4 L67.3,443.1 L68.1,443.7 L69.0,444.3 L70.0,444.8 L71.2,445.4 L72.5,445.9 L73.8,446.3 L75.2,446.8 L76.6,447.2 L78.1,447.7 L79.7,448.3 L81.3,448.8 L83.0,449.3 L84.7,449.7 L86.9,450.1 L89.4,450.4 L91.8,450.7 L93.9,450.9 L95.4,451.3 L95.8,451.5 L96.1,451.7 L96.4,452.0 L96.6,452.1 L96.8,452.2 L96.9,452.2 L96.9,452.2 L96.9,452.2 L97.0,452.1 L97.0,452.1 L97.2,450.5 L97.4,447.2 L97.4,443.0 L97.4,438.4 L97.5,434.1 L97.6,429.3 L97.8,424.2 L97.9,419.0 L98.1,414.1 L98.3,409.6 L98.5,406.7 L98.7,403.9 L98.9,401.4 L99.2,398.9 L99.5,396.5 L99.8,394.3 L100.1,391.9 L100.4,389.7 L100.7,388.1 L101.0,387.5 L101.3,388.5 L101.6,391.0 L101.9,394.4 L102.1,398.1 L102.3,401.4 L102.5,404.6 L102.6,407.9 L102.7,411.2 L102.8,414.5 L103.0,417.7 L103.2,420.5 L103.3,423.3 L103.5,426.1 L103.7,428.7 L104.0,431.0 L104.2,432.5 L104.5,433.8 L104.7,435.1 L105.1,436.3 L105.5,437.5 L106.1,438.7 L106.8,440.0 L107.6,441.1 L108.4,442.3 L109.2,443.3 L109.9,444.1 L110.5,444.9 L111.2,445.6 L111.9,446.2 L112.7,446.8 L113.5,447.3 L114.4,447.7 L115.4,448.0 L116.4,448.3 L117.4,448.6 L118.7,449.0 L120.1,449.4 L121.5,449.8 L122.9,450.1 L124.4,450.4 L126.0,450.7 L127.8,450.9 L129.5,451.1 L131.2,451.3 L132.6,451.5 L133.5,451.6 L134.3,451.7 L135.1,451.8 L135.7,451.9 L136.2,452.0 L136.3,452.1 L136.4,452.1 L136.5,452.2 L136.5,452.2 L136.6,452.2 L137.0,450.3 L137.3,445.9 L137.5,440.1 L137.7,433.9 L137.9,428.5 L138.1,423.7 L138.3,418.8 L138.5,413.9 L138.7,409.3 L139.0,405.0 L139.2,402.1 L139.5,399.5 L139.7,396.9 L139.9,394.5 L140.2,392.0 L140.4,389.4 L140.7,386.6 L140.9,383.9 L141.2,382.0 L141.4,381.2 L141.6,382.4 L141.9,385.5 L142.1,389.6 L142.3,394.0 L142.5,398.0 L142.7,401.8 L143.0,405.7 L143.2,409.6 L143.4,413.3 L143.7,416.8 L143.9,419.4 L144.1,422.0 L144.3,424.5 L144.6,426.7 L144.9,428.5 L145.1,429.3 L145.3,430.0 L145.5,430.6 L145.7,431.3 L146.0,432.0 L146.5,433.3 L147.2,434.8 L147.9,436.3 L148.7,437.8 L149.5,439.2 L150.3,440.5 L151.2,441.8 L152.1,443.1 L153.1,444.2 L154.2,445.1 L155.5,445.8 L156.9,446.3 L158.3,446.7 L159.8,447.0 L161.2,447.4 L162.4,447.8 L163.6,448.3 L164.8,448.7 L166.0,449.1 L167.1,449.5 L168.1,449.8 L169.1,450.0 L170.1,450.2 L171.0,450.4 L172.0,450.6 L173.0,450.8 L174.0,450.9 L175.0,451.1 L175.8,451.2 L176.3,451.5 L176.4,451.7 L176.5,451.9 L176.5,452.1 L176.5,452.2 L176.5,452.3 L176.7,450.6 L176.9,446.2 L177.2,440.3 L177.4,434.0 L177.6,428.5 L177.8,423.7 L178.0,418.9 L178.2,414.1 L178.5,409.5 L178.8,405.0 L179.1,401.4 L179.5,397.8 L179.8,394.4 L180.3,391.1 L180.7,388.0 L181.1,385.2 L181.6,382.1 L182.1,379.3 L182.5,377.3 L182.9,376.5 L183.3,378.1 L183.7,382.1 L184.0,387.5 L184.3,393.1 L184.6,398.0 L184.9,401.9 L185.1,405.8 L185.3,409.7 L185.5,413.3 L185.8,416.8 L186.0,419.4 L186.1,421.8 L186.3,424.2 L186.6,426.4 L187.0,428.5 L187.5,430.1 L188.1,431.7 L188.8,433.2 L189.6,434.5 L190.3,435.6 L190.8,436.1 L191.2,436.6 L191.7,436.9 L192.2,437.3 L192.8,437.8 L194.0,438.9 L195.4,440.3 L196.9,441.8 L198.4,443.2 L199.9,444.4 L201.1,445.2 L202.2,445.8 L203.3,446.4 L204.5,446.9 L205.8,447.4 L207.5,448.0 L209.2,448.6 L211.1,449.1 L212.9,449.6 L214.8,450.0 L216.9,450.4 L219.2,450.8 L221.5,451.1 L223.3,451.3 L224.5,451.4 L224.6,451.4 L224.7,451.5 L224.8,451.5 L224.9,451.5 L225.0,451.4 L225.5,449.1 L225.7,444.1 L225.7,437.7 L225.7,430.9 L225.8,425.0 L226.0,420.2 L226.2,415.5 L226.4,410.8 L226.6,406.2 L226.9,401.8 L227.2,398.1 L227.4,394.6 L227.7,391.1 L228.1,387.7 L228.5,384.2 L229.0,380.2 L229.6,375.7 L230.2,371.5 L230.8,368.4 L231.3,367.2 L231.6,367.8 L231.8,369.4 L232.0,371.6 L232.1,374.1 L232.3,376.6 L232.6,381.8 L232.8,388.2 L233.0,395.1 L233.2,401.6 L233.5,407.0 L233.7,409.6 L233.9,412.0 L234.2,414.1 L234.5,416.1 L234.8,418.0 L235.1,419.2 L235.3,420.4 L235.6,421.4 L235.9,422.4 L236.3,423.5 L236.7,424.6 L237.2,425.7 L237.6,426.8 L238.1,427.8 L238.5,428.8 L238.8,429.6 L239.1,430.3 L239.4,431.1 L239.7,431.8 L240.0,432.5 L240.3,433.2 L240.6,433.9 L240.9,434.6 L241.2,435.3 L241.5,436.0 L241.9,436.7 L242.2,437.3 L242.6,438.0 L243.1,438.6 L243.5,439.2 L244.0,439.8 L244.4,440.3 L244.9,440.8 L245.4,441.3 L246.0,441.8 L246.6,442.3 L247.3,442.7 L248.0,443.1 L248.7,443.5 L249.4,443.9 L250.1,444.3 L250.8,444.7 L251.5,445.1 L252.2,445.4 L253.0,445.8 L253.8,446.1 L254.7,446.5 L255.6,446.8 L256.5,447.1 L257.5,447.4 L259.0,447.9 L260.6,448.4 L262.3,448.9 L264.0,449.4 L265.7,449.8 L267.5,450.2 L269.4,450.6 L271.2,450.9 L272.8,451.2 L273.9,451.5 L274.1,451.6 L274.3,451.6 L274.5,451.7 L274.6,451.7 L274.7,451.8 L274.8,451.9 L274.8,452.0 L274.9,452.1 L274.9,452.2 L275.0,452.2 L275.2,451.0 L275.3,448.0 L275.3,444.0 L275.3,439.7 L275.4,436.0 L275.5,432.9 L275.6,429.8 L275.7,426.7 L275.8,423.6 L275.9,420.5 L276.1,417.4 L276.2,414.3 L276.4,411.2 L276.7,408.1 L276.9,405.0 L277.2,402.0 L277.5,399.0 L277.8,396.0 L278.1,393.0 L278.5,390.0 L278.9,386.9 L279.3,383.8 L279.7,380.7 L280.1,377.6 L280.6,374.5 L281.1,370.8 L281.6,366.6 L282.2,362.6 L282.7,359.7 L283.3,358.5 L283.8,359.3 L284.3,361.3 L284.8,364.0 L285.3,367.1 L285.7,369.9 L286.1,373.4 L286.4,377.3 L286.7,381.2 L286.9,385.2 L287.2,389.0 L287.5,392.4 L287.7,395.7 L288.0,399.0 L288.2,402.1 L288.5,405.0 L288.7,407.0 L288.9,408.8 L289.1,410.6 L289.3,412.3 L289.5,414.0 L289.7,415.6 L290.0,417.1 L290.3,418.7 L290.6,420.1 L291.0,421.5 L291.4,422.5 L291.7,423.5 L292.2,424.4 L292.6,425.3 L293.0,426.2 L293.4,427.0 L293.8,427.7 L294.2,428.5 L294.6,429.2 L295.0,429.9 L295.5,430.6 L296.0,431.3 L296.5,431.9 L297.0,432.6 L297.5,433.2 L297.9,433.8 L298.4,434.3 L298.8,434.8 L299.2,435.3 L299.7,435.9 L300.3,436.6 L300.9,437.3 L301.6,438.0 L302.3,438.7 L303.0,439.4 L303.7,440.0 L304.5,440.7 L305.3,441.3 L306.1,441.9 L306.9,442.4 L307.5,442.8 L308.1,443.2 L308.7,443.6 L309.3,444.0 L310.0,444.3 L310.8,444.7 L311.6,445.0 L312.4,445.4 L313.2,445.7 L314.0,446.0 L314.8,446.3 L315.6,446.6 L316.4,446.8 L317.2,447.1 L318.0,447.3 L318.9,447.5 L319.8,447.8 L320.7,448.0 L321.7,448.2 L322.6,448.4" stroke="#ee1c24" stroke-width="2.4" fill="none" stroke-linejoin="round"/>
<path d="M50.6,336.3V465.4H322.4 M21.3,335.6V465.4 M68.1,465.4v-3 M104.4,465.4v-3 M140.8,465.4v-3 M177.1,465.4v-3 M213.4,465.4v-3 M249.8,465.4v-3 M286.1,465.4v-3 M322.4,465.4v-3 M50.6,465.4h3 M50.6,411.5h3 M50.6,357.7h3 M21.3,453.9h3 M21.3,424.5h3 M21.3,395.1h3 M21.3,365.8h3 M21.3,336.4h3" stroke="#404040" stroke-width="1.3" fill="none"/>
<text transform="translate(69.1,481.3) scale(1,1.12)" class="ser" font-size="12.2" text-anchor="middle">500</text>
<text transform="translate(105.4,481.3) scale(1,1.12)" class="ser" font-size="12.2" text-anchor="middle">550</text>
<text transform="translate(141.8,481.3) scale(1,1.12)" class="ser" font-size="12.2" text-anchor="middle">600</text>
<text transform="translate(178.1,481.3) scale(1,1.12)" class="ser" font-size="12.2" text-anchor="middle">650</text>
<text transform="translate(214.4,481.3) scale(1,1.12)" class="ser" font-size="12.2" text-anchor="middle">700</text>
<text transform="translate(250.8,481.3) scale(1,1.12)" class="ser" font-size="12.2" text-anchor="middle">750</text>
<text transform="translate(287.1,481.3) scale(1,1.12)" class="ser" font-size="12.2" text-anchor="middle">800</text>
<text transform="translate(323.4,481.3) scale(1,1.12)" class="ser" font-size="12.2" text-anchor="middle">850</text>
<text x="160.5" y="498.3" class="ser" font-size="14">Time [sec]</text>
<text transform="translate(45.5,465.1) rotate(-45)" class="ser" font-size="12.5" text-anchor="end" dy="4.3">0</text>
<text transform="translate(45.5,411.2) rotate(-45)" class="ser" font-size="12.5" text-anchor="end" dy="4.3">5</text>
<text transform="translate(45.5,357.4) rotate(-45)" class="ser" font-size="12.5" text-anchor="end" dy="4.3">10</text>
<text transform="translate(15.8,453.6) rotate(-45)" class="ser" font-size="12.5" text-anchor="end" dy="4.3">10</text>
<text transform="translate(15.8,424.2) rotate(-45)" class="ser" font-size="12.5" text-anchor="end" dy="4.3">15</text>
<text transform="translate(15.8,394.8) rotate(-45)" class="ser" font-size="12.5" text-anchor="end" dy="4.3">20</text>
<text transform="translate(15.8,365.5) rotate(-45)" class="ser" font-size="12.5" text-anchor="end" dy="4.3">25</text>
<text transform="translate(14.6,337.3) rotate(-45)" class="ser" font-size="12.5" text-anchor="end" dy="4.3">30</text>
<text transform="translate(21,340) rotate(-45)" class="ser" font-size="12.4">Temperature [K]</text>
<text transform="translate(47,338.5) rotate(-45)" class="ser" font-size="13.2">FBG reading [pm]</text>
<rect x="103.2" y="281.7" width="95.8" height="27.8" fill="#fff" stroke="#303030" stroke-width="0.9"/>
<path d="M106,289.3H147.6" stroke="#3049a8" stroke-width="3.4"/>
<path d="M106,304.2H147.6" stroke="#ee1c24" stroke-width="2.2"/>
<text x="148.5" y="291.3" class="ser" font-size="13">FBG A72</text>
<text x="148.5" y="307.1" class="ser" font-size="13">TH5</text>
<text x="58.2" y="355.9" class="ser" font-size="14.3">Pulse 11</text>
<path d="M64.5,362.7L63.5,377.8" stroke="#000" stroke-width="1.6"/>
<path d="M62.9,387.3L58.9,376.5L68.3,377.1Z" fill="#000"/>
<text x="96.4" y="334.6" class="ser" font-size="14.3">Pulse 12</text>
<path d="M118.4,338.0L104.3,377.4" stroke="#000" stroke-width="1.6"/>
<path d="M101.1,386.3L100.2,374.8L109.1,378.0Z" fill="#000"/>
<text x="150.8" y="326.6" class="ser" font-size="14.3">Pulse 13</text>
<path d="M163.4,330.0L145.5,368.5" stroke="#000" stroke-width="1.6"/>
<path d="M141.5,377.1L141.7,365.6L150.2,369.6Z" fill="#000"/>
<text x="206.5" y="317.5" class="ser" font-size="14.3">Pulse 14</text>
<path d="M213.7,320.3L189.3,365.0" stroke="#000" stroke-width="1.6"/>
<path d="M184.7,373.3L185.6,361.8L193.9,366.3Z" fill="#000"/>
<text x="255.5" y="299.3" class="ser" font-size="14.3">Pulse 15</text>
<path d="M265.7,304.0L237.0,353.0" stroke="#000" stroke-width="1.6"/>
<path d="M232.2,361.2L233.5,349.8L241.6,354.5Z" fill="#000"/>
<text x="283.6" y="327.6" class="ser" font-size="14.3">Pulse 16</text>
<path d="M304.6,331.1L285.8,348.4" stroke="#000" stroke-width="1.6"/>
<path d="M278.8,354.8L283.4,344.2L289.7,351.2Z" fill="#000"/>
</svg>
</body></html>
